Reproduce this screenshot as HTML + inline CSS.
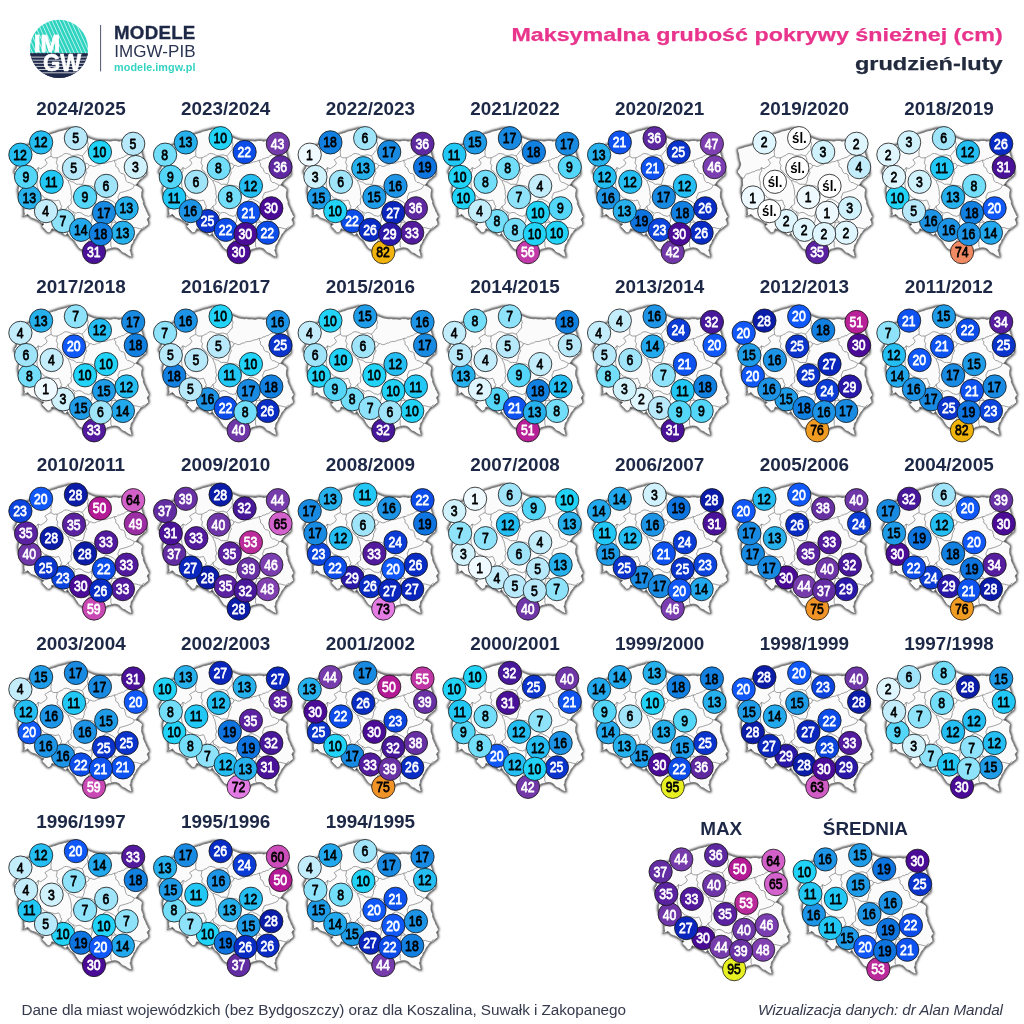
<!DOCTYPE html>
<html lang="pl"><head><meta charset="utf-8"><title>Maksymalna grubość pokrywy śnieżnej</title>
<style>
html,body{margin:0;padding:0;background:#fff}
body{width:1024px;height:1024px;overflow:hidden;position:relative;font-family:"Liberation Sans",sans-serif}
svg{position:absolute;left:0;top:0;display:block;will-change:transform}
text{font-family:"Liberation Sans",sans-serif}
.t{font-weight:bold;font-size:18.9px;fill:#1d2846;text-anchor:middle}
.c circle{stroke:#151515;stroke-opacity:.8;stroke-width:1.0}
.n text{font-size:15.4px;text-anchor:middle;stroke-width:.8px;stroke-linejoin:round}
.n .k{fill:#000;stroke:#000}
.s text{font-size:15.4px;font-weight:bold;text-anchor:middle;fill:#000}
.n .w{fill:#fff;stroke:#fff}
</style></head><body>
<svg width="1024" height="1024" viewBox="0 0 1024 1024">
<defs>
<filter id="sh" x="-10%" y="-10%" width="125%" height="125%">
<feGaussianBlur in="SourceAlpha" stdDeviation="1.8" result="b"/>
<feOffset in="b" dx="0.25" dy="0.25" result="o"/>
<feComponentTransfer in="o" result="s"><feFuncA type="linear" slope="1.3"/></feComponentTransfer>
<feMerge><feMergeNode in="s"/><feMergeNode in="SourceGraphic"/></feMerge>
</filter>
<g id="pl">
<path d="M14.3,149.2 16.5,148.3 18.8,147.8 21,147 22.9,146.4 24.9,146 26.9,145.5 28.8,144.9 30.5,143.7 32.4,142.7 34.5,142.3 36.2,141 38,140 40,139.3 41.8,138.8 43.2,137.7 45,137.1 46.5,136 48.2,135.3 49.6,134.2 51.4,133.6 53.6,132.9 55.9,132.3 58,131.3 60.1,130.8 62.2,130.4 64.3,129.7 66.2,129.4 68,128.4 70,128.3 72,128.6 74,128.5 76,128.5 78.1,129.6 80,131 81.3,132.3 81.8,134.2 83,135.5 85.2,136.1 87.4,136.7 89.5,137.9 91.7,138.7 93.8,139.6 96,140 97.9,140.3 99.9,140.6 101.9,140.3 103.8,140.8 105.8,140.7 107.7,140.7 109.5,141.1 111.3,141 113.2,140.4 115.1,140.5 116.9,140.5 118.7,141.2 120.6,140.8 122.5,140.8 124.4,141 126.3,140.8 128.3,141 130.2,141 132.1,141 134,141.2 136.5,140.8 139,140.2 140.2,141.6 141.5,143 141.2,145.3 141.4,147.7 141.5,150 141.7,152.1 142.2,154.1 143,156 143.1,158.1 143.9,160 144.8,161.9 145,164 145.1,166.4 145.4,168.7 146.2,171 146,173 146.4,175 144.8,176.1 143.2,177.2 141.9,178.7 140.2,179.7 138.6,181.4 137.3,183.3 135.9,185.2 137.9,186 139.8,187.2 141.4,188.4 142.5,190 141.8,192.3 141.7,194.7 141.7,197.1 142.5,199.4 143.4,201.4 143.3,203.6 144.1,205.6 144.9,207.4 145.9,209.2 146.4,211.1 147.6,212.9 148.3,214.9 149.5,216.6 148.1,218 147.2,219.7 148.3,221.9 148.8,224.4 146.7,225.9 144.8,227.5 143.5,228.8 141.6,229.4 140.2,230.6 139.3,232.2 138,233.6 136.9,235.1 136.2,236.9 135.3,238.5 134,239.8 133.6,241.7 132.8,243.3 131.6,244.7 131,246.5 130.9,248.5 130,250.2 130.8,251.9 131.2,253.7 131.6,255.5 132.3,257.2 130.4,256.7 128.6,255.9 126.9,254.8 125.2,253.5 123.2,252.9 121.4,251.7 120.1,249.9 118.3,248.6 116,247.9 113.6,247.8 111.5,248.4 109.4,248.9 107.3,249.4 105.6,250.7 104,252 102.4,252.9 101,253.9 99.5,255 98,256 96,255.9 94,255.6 92,256 90,254.5 88,253 86,252 84,251 82.1,249.9 80,249.1 78.3,247.3 76.9,245.2 75.6,243.3 74.5,241.2 73.2,239.7 71.5,238.7 70,237.5 68.8,235.4 67.5,233.4 65.2,235.8 62.8,233.4 60.2,232.5 58,231 55.9,230.3 54,229.4 51.9,228.8 51.1,231.1 49.8,232.4 48,233 46.7,231.4 45.2,230 43.5,228.1 41.7,226.4 44,224 41.5,223.2 39.4,221.7 37.5,220.5 35.5,219.4 33.1,218.6 30.8,217.8 29.4,216 27.7,214.3 26.1,215.3 24.2,216 22.6,217 23.7,215.5 24.5,213.9 24,212.1 23.9,210.3 24.1,208.4 23.5,206.5 23,204.7 22,203 21.1,201.3 20.5,199.5 19.8,197.7 19,196 18.5,194 18.2,192 18,190 18.6,187.6 19.4,185.2 19.2,182.8 19.2,180.5 19,178.1 17.6,176.8 16.4,175.3 15.3,173.6 13.9,172.3 14.6,170.3 15.9,168.8 16.7,166.8 17.4,164.8 17.1,162.6 16.3,160.6 15.8,158.4 15.5,156.2 15.3,153.9 14.5,151.6Z" fill="#fbfbfb" stroke="#707070" stroke-width=".85" stroke-linejoin="miter" filter="url(#sh)"/>
<path d="M51.4,145 51.5,146.7 51.3,148.3 51.4,150 50.8,152.1 51.2,154.2 51,156.2 49.1,157 47.7,157.9 46.2,158.8 44.8,159.8 46.2,161.4 47.1,163.3 45.6,165.6 44,166.6 42.4,167.6 40.9,168.8 38.1,167.6 36.6,169.9 34.4,170 32.3,170.7 30.9,171.7 29.2,171.9 27.3,172.7 25.4,173.6 23.3,173.8 22.1,175.1 21.3,176.6 20.6,178.1 19,178.1 M51,156.2 53.4,157.8 55.2,157.8 57.1,157.8 58.8,157.2 60.2,156.2 61.9,155.7 63.2,154.5 64.7,153.7 66.5,153.5 68.1,153.9 69.7,154.3 71.1,155.3 72.8,155.5 74.6,155.4 76.4,155.1 78.2,154.7 80.1,155.4 82.1,155.9 83.8,154.2 85.2,152.3 86.2,150.9 87.6,150 87.6,148.2 87.4,146.5 88.3,144.8 88,143 87.3,140.9 87.9,138.8 87.4,136.7 M57.1,157.8 57,160.2 56.3,162.5 56.9,164.1 57.9,165.6 57.3,167.1 57.1,168.8 57.8,170.3 59.5,171.2 60.2,172.7 61.7,173.9 63,175.3 64,177 65.6,177.9 66.6,179.5 68.1,180.5 69.8,180.7 71.2,181.7 72.9,181.9 74.3,182.8 76.7,184.4 78.5,184.2 80.3,184.3 82.1,184.4 83.2,183 83.7,181.2 84.3,179.5 84.2,177.5 85.2,175.8 85.8,174.1 86.8,172.7 86,171.2 86,169.5 88.4,168 89.2,165.6 88.3,164.2 86.8,163.3 85.2,164.1 84.8,162.4 83.7,160.9 83.5,159.1 83,157.5 82.1,155.9 M89.2,165.6 91.1,165.4 92.8,166.4 94.6,166.4 96.3,165.7 97.8,164.8 99.4,164.9 100.8,163.8 102.4,163.4 104,163.3 105.6,163.1 107.2,162.7 108.6,161.9 110.2,161.7 111.9,161.4 113.3,160.6 114.9,160.2 116.8,160 118.3,158.7 120.2,158.6 121.7,157.5 123.5,157.4 124.9,156.2 126.4,155.3 128.1,154.7 129.6,153.6 131.5,153.2 133,152 134.7,151.5 136.2,150.3 138,150 139.7,150.1 141.3,150.2 143,150 M114.8,160.2 114.6,162.1 115.9,163.7 115.6,165.6 116.4,167.1 118,168 118.7,169.5 119.4,171.7 121,173.4 123.2,173.7 124.9,175 124.9,176.7 125.5,178.2 125.7,179.8 126.5,181.2 127.8,182.5 129.8,182.6 131.2,183.6 132.8,184.2 134.3,185.2 135.9,185.2 M134.3,185.2 133.7,186.8 132.8,188.3 131.2,189.1 129.6,189.8 128.1,190.4 126.5,190.9 124.9,191.4 123.1,192 121.3,192.3 119.5,193 118.9,195.1 117.9,196.9 118.2,198.5 118.7,200 118,202.3 116.3,204 115.3,205.6 114,207 113.5,208.7 113,210.5 112,212 112.1,214 112.9,216 113,218 113.7,219.5 114.6,221 116,222 118.1,222.8 120,224 121.9,225.1 123.9,225.7 126,226 127.6,226.5 129.4,226.1 131,226.9 132.6,227.3 134.3,227.5 136.3,227.7 138.2,228.3 141.3,229 142.7,227.6 144.5,226.7 M38.1,167.6 38.5,170.3 37.8,171.9 36.9,173.3 36.6,175 35.9,177.3 36.2,179.7 36.8,181.6 37,183.6 37,185.5 37.4,187.2 38,189 38.8,191 40.3,192.6 40.9,194.7 42.8,195.9 44,197.8 45.6,198.1 47.1,198.6 49,199.6 51,200 53,200.2 54.9,200.9 56.8,200.5 58.7,200 59.7,201.5 60.2,203.1 60.7,204.8 61.8,206.2 61,207.8 63,210 65.2,209.4 67,208 68.1,206.2 M40.9,194.7 39.4,195.5 37.6,195.4 36,196 34.6,196.9 33.1,197.8 31.5,198.3 30,199 29,200.7 28,202.3 27,204 26.3,205.8 25.8,207.8 24.9,209.5 M68.1,180.5 68.6,182.1 69.1,183.6 70,185 70.3,186.7 70.7,188.3 71,190 71.4,192 71.1,194.2 72,196.1 71.6,198.1 70.8,200 71.4,201.9 71.2,203.9 69.8,205.3 68.1,206.2 68.7,207.8 68.8,209.4 70.9,210.4 72.8,211.7 74.4,212.3 75.9,213.3 77.8,212.5 79.8,212.5 81.4,213.1 82.9,214.1 85.2,215.6 86.9,215.8 88.4,216.4 90,215.7 91.5,214.8 92,213 92.7,211.4 94,210 94.4,208.2 95.4,206.7 96,205 95.5,203.4 95.6,201.6 95,200 96,198.5 96.2,196.6 97,195 96.2,193.4 96.6,191.6 96,190 94.8,188.2 93.1,186.7 91.5,185.9 89.4,185.8 87.4,185.3 85.2,185.2 83.6,185 82.1,184.4 M72.8,211.7 73.6,213.5 75.1,214.8 74.1,216.3 73.5,218 72.5,219.9 72,222 70.6,223.8 70,226 69.2,228.1 68,230 67.6,232.2 67.4,234.5 M61,207.8 60.3,209.4 58.8,210.5 58,212 57.2,213.6 56.7,215.3 56,217 56,218.7 55,220.3 55,222 55,223.7 55.7,225.3 56,227 57,229 58,231 M91.5,214.8 91.2,216.6 92.2,218.2 92,220 91.5,222.2 90,224 90,226.1 91,228 90.3,230.2 89,232 89.7,233.9 89.5,236 90,238 89.5,239.7 88.3,241.2 88,243 87.3,245.1 86,247 84.6,248.2 84,250 M96,205 98.2,204.4 100,203 101.6,202.4 102.9,201.3 104,200 105.9,199.1 108,199 110,200.1 112,201 113.5,201.9 114.8,203 116.3,204 M91,228 92.8,227.6 94.5,227 96,226 97.9,225.3 100.1,225.9 102,225 103.9,224 106.1,223.8 108,223 109.9,222.1 112,222 114,222.3 116,222 M112,222 111.8,224 110.9,225.9 111,228 111,230.1 112,231.9 112,234 110.9,235.9 110.5,238 110,240 110.9,241.8 110.9,243.9 110.8,246 111.7,247.8 112.4,249.4" fill="none" stroke="#6e6e6e" stroke-width=".65" stroke-linejoin="miter"/>
</g>
</defs>
<g id="logo">
<clipPath id="lc"><circle cx="59" cy="48.9" r="29.1"/></clipPath>
<g clip-path="url(#lc)">
<rect x="29" y="19" width="61" height="34.3" fill="#2fd4c0"/>
<rect x="29" y="53.3" width="61" height="26" fill="#1f2a4a"/>
<path stroke="#fff" stroke-width=".85" opacity=".8" d="M13.2,19l16,35M17,19l16,35M20.8,19l16,35M24.6,19l16,35M28.4,19l16,35M32.2,19l16,35M36,19l16,35M39.8,19l16,35M43.6,19l16,35M47.4,19l16,35M51.2,19l16,35M55,19l16,35M58.8,19l16,35M62.6,19l16,35M66.4,19l16,35M70.2,19l16,35M74,19l16,35M77.800,19l16,35"/>
<rect x="29" y="53.3" width="61" height="26" fill="#1f2a4a"/>
<path stroke="#fff" stroke-width=".85" opacity=".9" d="M29,57.1h61M29,60.2h61M29,63.3h61M29,66.4h61M29,69.5h61M29,72.8h61"/>
</g>
<text x="34" y="52.3" font-weight="bold" font-size="24.2" fill="#fff" stroke="#fff" stroke-width=".7" textLength="26.3" lengthAdjust="spacingAndGlyphs">IM</text>
<text x="42.9" y="71.3" font-weight="bold" font-size="24.6" fill="#fff" stroke="#fff" stroke-width=".6" textLength="38.2" lengthAdjust="spacingAndGlyphs">GW</text>
</g>
<rect x="100.1" y="24.9" width="1" height="46.5" fill="#50566c"/>
<text x="114" y="38.85" font-weight="bold" font-size="18.7" fill="#1d2846" stroke="#1d2846" stroke-width=".35" textLength="81.3" lengthAdjust="spacing">MODELE</text>
<text x="114.2" y="56.7" font-size="17" fill="#2a3450" textLength="81.3" lengthAdjust="spacing">IMGW-PIB</text>
<text x="114.1" y="70.9" font-weight="bold" font-size="10.8" fill="#35d3c0" textLength="81.3" lengthAdjust="spacing">modele.imgw.pl</text>
<text x="511.4" y="40.9" font-weight="bold" font-size="19" fill="#e8348c" stroke="#e8348c" stroke-width=".25" textLength="491.3" lengthAdjust="spacingAndGlyphs">Maksymalna grubość pokrywy śnieżnej (cm)</text>
<text x="854.9" y="70.4" font-weight="bold" font-size="19" fill="#222a3e" stroke="#222a3e" stroke-width=".25" textLength="147.8" lengthAdjust="spacingAndGlyphs">grudzień-luty</text>

<g transform="translate(0,0)">
<text class="t" x="81" y="115">2024/2025</text>
<use href="#pl"/>
<g class="c"><circle cx="20.4" cy="154.7" r="11.65" fill="#25bef2"/><circle cx="29.6" cy="197.5" r="11.65" fill="#26b0ec"/><circle cx="41.1" cy="142.4" r="11.65" fill="#25bef2"/><circle cx="26.1" cy="176.9" r="11.65" fill="#54d6f9"/><circle cx="75.9" cy="138.2" r="11.65" fill="#b8e9fb"/><circle cx="99.9" cy="152" r="11.65" fill="#22d3f8"/><circle cx="133.2" cy="143.8" r="11.65" fill="#b8e9fb"/><circle cx="135.8" cy="167.1" r="11.65" fill="#d0f2fd"/><circle cx="74" cy="168.2" r="11.65" fill="#b8e9fb"/><circle cx="51.6" cy="181.8" r="11.65" fill="#22c8f5"/><circle cx="106.2" cy="185.9" r="11.65" fill="#a0e4fa"/><circle cx="85.1" cy="197.1" r="11.65" fill="#54d6f9"/><circle cx="63.1" cy="221.1" r="11.65" fill="#8ee2fa"/><circle cx="46" cy="211.1" r="11.65" fill="#c4edfc"/><circle cx="81.1" cy="229.8" r="11.65" fill="#22a8ec"/><circle cx="104" cy="212.8" r="11.65" fill="#198ae2"/><circle cx="126.6" cy="208.3" r="11.65" fill="#26b0ec"/><circle cx="122.9" cy="232.7" r="11.65" fill="#26b0ec"/><circle cx="94" cy="252.1" r="11.65" fill="#4a1298"/><circle cx="100.8" cy="234.1" r="11.65" fill="#1280e0"/></g>
<g class="n" transform="scale(0.795,1)"><text class="k" x="25.22" y="159.8">12</text><text class="k" x="36.86" y="202.6">13</text><text class="k" x="51.32" y="147.5">12</text><text class="k" x="32.45" y="182">9</text><text class="k" x="95.09" y="143.3">5</text><text class="k" x="125.28" y="157.1">10</text><text class="k" x="167.17" y="148.9">5</text><text class="k" x="170.44" y="172.2">3</text><text class="k" x="92.70" y="173.2">5</text><text class="k" x="64.53" y="186.8">11</text><text class="k" x="133.21" y="191">6</text><text class="k" x="106.67" y="202.2">9</text><text class="k" x="78.99" y="226.2">7</text><text class="k" x="57.42" y="216.2">4</text><text class="k" x="101.64" y="234.9">14</text><text class="k" x="130.44" y="217.9">17</text><text class="k" x="158.87" y="213.4">13</text><text class="k" x="154.21" y="237.8">13</text><text class="w" x="117.92" y="257.2">31</text><text class="k" x="126.42" y="239.2">18</text></g>
</g>
<g transform="translate(144.7,0)">
<text class="t" x="81" y="115">2023/2024</text>
<use href="#pl"/>
<g class="c"><circle cx="20.4" cy="154.7" r="11.65" fill="#72defa"/><circle cx="29.6" cy="197.5" r="11.65" fill="#22c8f5"/><circle cx="41.1" cy="142.4" r="11.65" fill="#26b0ec"/><circle cx="26.1" cy="176.9" r="11.65" fill="#54d6f9"/><circle cx="75.9" cy="138.2" r="11.65" fill="#22d3f8"/><circle cx="99.9" cy="152" r="11.65" fill="#0c4ce8"/><circle cx="133.2" cy="143.8" r="11.65" fill="#743aaa"/><circle cx="135.8" cy="167.1" r="11.65" fill="#5e28a0"/><circle cx="74" cy="168.2" r="11.65" fill="#72defa"/><circle cx="51.6" cy="181.8" r="11.65" fill="#a0e4fa"/><circle cx="106.2" cy="185.9" r="11.65" fill="#25bef2"/><circle cx="85.1" cy="197.1" r="11.65" fill="#72defa"/><circle cx="63.1" cy="221.1" r="11.65" fill="#0a34cc"/><circle cx="46" cy="211.1" r="11.65" fill="#1d94e6"/><circle cx="81.1" cy="229.8" r="11.65" fill="#0c4ce8"/><circle cx="104" cy="212.8" r="11.65" fill="#0e52f0"/><circle cx="126.6" cy="208.3" r="11.65" fill="#4a0c96"/><circle cx="122.9" cy="232.7" r="11.65" fill="#0c4ce8"/><circle cx="94" cy="252.1" r="11.65" fill="#4a0c96"/><circle cx="100.8" cy="234.1" r="11.65" fill="#4a0c96"/></g>
<g class="n" transform="scale(0.795,1)"><text class="k" x="25.22" y="159.8">8</text><text class="k" x="36.86" y="202.6">11</text><text class="k" x="51.32" y="147.5">13</text><text class="k" x="32.45" y="182">9</text><text class="k" x="95.09" y="143.3">10</text><text class="w" x="125.28" y="157.1">22</text><text class="w" x="167.17" y="148.9">43</text><text class="w" x="170.44" y="172.2">36</text><text class="k" x="92.70" y="173.2">8</text><text class="k" x="64.53" y="186.8">6</text><text class="k" x="133.21" y="191">12</text><text class="k" x="106.67" y="202.2">8</text><text class="w" x="78.99" y="226.2">25</text><text class="k" x="57.42" y="216.2">16</text><text class="w" x="101.64" y="234.9">22</text><text class="w" x="130.44" y="217.9">21</text><text class="w" x="158.87" y="213.4">30</text><text class="w" x="154.21" y="237.8">22</text><text class="w" x="117.92" y="257.2">30</text><text class="w" x="126.42" y="239.2">30</text></g>
</g>
<g transform="translate(289.3,0)">
<text class="t" x="81" y="115">2022/2023</text>
<use href="#pl"/>
<g class="c"><circle cx="20.4" cy="154.7" r="11.65" fill="#eefaff"/><circle cx="29.6" cy="197.5" r="11.65" fill="#1f9ce8"/><circle cx="41.1" cy="142.4" r="11.65" fill="#1280e0"/><circle cx="26.1" cy="176.9" r="11.65" fill="#d0f2fd"/><circle cx="75.9" cy="138.2" r="11.65" fill="#a0e4fa"/><circle cx="99.9" cy="152" r="11.65" fill="#198ae2"/><circle cx="133.2" cy="143.8" r="11.65" fill="#5e28a0"/><circle cx="135.8" cy="167.1" r="11.65" fill="#0e74e0"/><circle cx="74" cy="168.2" r="11.65" fill="#26b0ec"/><circle cx="51.6" cy="181.8" r="11.65" fill="#a0e4fa"/><circle cx="106.2" cy="185.9" r="11.65" fill="#1d94e6"/><circle cx="85.1" cy="197.1" r="11.65" fill="#1f9ce8"/><circle cx="63.1" cy="221.1" r="11.65" fill="#0c4ce8"/><circle cx="46" cy="211.1" r="11.65" fill="#22d3f8"/><circle cx="81.1" cy="229.8" r="11.65" fill="#082cc4"/><circle cx="104" cy="212.8" r="11.65" fill="#0a26bc"/><circle cx="126.6" cy="208.3" r="11.65" fill="#5e28a0"/><circle cx="122.9" cy="232.7" r="11.65" fill="#521a9c"/><circle cx="94" cy="252.1" r="11.65" fill="#f0b40c"/><circle cx="100.8" cy="234.1" r="11.65" fill="#2a18a8"/></g>
<g class="n" transform="scale(0.795,1)"><text class="k" x="25.22" y="159.8">1</text><text class="k" x="36.86" y="202.6">15</text><text class="k" x="51.32" y="147.5">18</text><text class="k" x="32.45" y="182">3</text><text class="k" x="95.09" y="143.3">6</text><text class="k" x="125.28" y="157.1">17</text><text class="w" x="167.17" y="148.9">36</text><text class="k" x="170.44" y="172.2">19</text><text class="k" x="92.70" y="173.2">13</text><text class="k" x="64.53" y="186.8">6</text><text class="k" x="133.21" y="191">16</text><text class="k" x="106.67" y="202.2">15</text><text class="w" x="78.99" y="226.2">22</text><text class="k" x="57.42" y="216.2">10</text><text class="w" x="101.64" y="234.9">26</text><text class="w" x="130.44" y="217.9">27</text><text class="w" x="158.87" y="213.4">36</text><text class="w" x="154.21" y="237.8">33</text><text class="k" x="117.92" y="257.2">82</text><text class="w" x="126.42" y="239.2">29</text></g>
</g>
<g transform="translate(434,0)">
<text class="t" x="81" y="115">2021/2022</text>
<use href="#pl"/>
<g class="c"><circle cx="20.4" cy="154.7" r="11.65" fill="#22c8f5"/><circle cx="29.6" cy="197.5" r="11.65" fill="#22d3f8"/><circle cx="41.1" cy="142.4" r="11.65" fill="#1f9ce8"/><circle cx="26.1" cy="176.9" r="11.65" fill="#22d3f8"/><circle cx="75.9" cy="138.2" r="11.65" fill="#198ae2"/><circle cx="99.9" cy="152" r="11.65" fill="#1280e0"/><circle cx="133.2" cy="143.8" r="11.65" fill="#198ae2"/><circle cx="135.8" cy="167.1" r="11.65" fill="#54d6f9"/><circle cx="74" cy="168.2" r="11.65" fill="#72defa"/><circle cx="51.6" cy="181.8" r="11.65" fill="#72defa"/><circle cx="106.2" cy="185.9" r="11.65" fill="#c4edfc"/><circle cx="85.1" cy="197.1" r="11.65" fill="#8ee2fa"/><circle cx="63.1" cy="221.1" r="11.65" fill="#72defa"/><circle cx="46" cy="211.1" r="11.65" fill="#c4edfc"/><circle cx="81.1" cy="229.8" r="11.65" fill="#72defa"/><circle cx="104" cy="212.8" r="11.65" fill="#22d3f8"/><circle cx="126.6" cy="208.3" r="11.65" fill="#54d6f9"/><circle cx="122.9" cy="232.7" r="11.65" fill="#22d3f8"/><circle cx="94" cy="252.1" r="11.65" fill="#c23aa8"/><circle cx="100.8" cy="234.1" r="11.65" fill="#22d3f8"/></g>
<g class="n" transform="scale(0.795,1)"><text class="k" x="25.22" y="159.8">11</text><text class="k" x="36.86" y="202.6">10</text><text class="k" x="51.32" y="147.5">15</text><text class="k" x="32.45" y="182">10</text><text class="k" x="95.09" y="143.3">17</text><text class="k" x="125.28" y="157.1">18</text><text class="k" x="167.17" y="148.9">17</text><text class="k" x="170.44" y="172.2">9</text><text class="k" x="92.70" y="173.2">8</text><text class="k" x="64.53" y="186.8">8</text><text class="k" x="133.21" y="191">4</text><text class="k" x="106.67" y="202.2">7</text><text class="k" x="78.99" y="226.2">8</text><text class="k" x="57.42" y="216.2">4</text><text class="k" x="101.64" y="234.9">8</text><text class="k" x="130.44" y="217.9">10</text><text class="k" x="158.87" y="213.4">9</text><text class="k" x="154.21" y="237.8">10</text><text class="w" x="117.92" y="257.2">56</text><text class="k" x="126.42" y="239.2">10</text></g>
</g>
<g transform="translate(578.7,0)">
<text class="t" x="81" y="115">2020/2021</text>
<use href="#pl"/>
<g class="c"><circle cx="20.4" cy="154.7" r="11.65" fill="#26b0ec"/><circle cx="29.6" cy="197.5" r="11.65" fill="#1d94e6"/><circle cx="41.1" cy="142.4" r="11.65" fill="#0e52f0"/><circle cx="26.1" cy="176.9" r="11.65" fill="#25bef2"/><circle cx="75.9" cy="138.2" r="11.65" fill="#5e28a0"/><circle cx="99.9" cy="152" r="11.65" fill="#0a34cc"/><circle cx="133.2" cy="143.8" r="11.65" fill="#7e3fb0"/><circle cx="135.8" cy="167.1" r="11.65" fill="#7a3eb0"/><circle cx="74" cy="168.2" r="11.65" fill="#0e52f0"/><circle cx="51.6" cy="181.8" r="11.65" fill="#25bef2"/><circle cx="106.2" cy="185.9" r="11.65" fill="#25bef2"/><circle cx="85.1" cy="197.1" r="11.65" fill="#198ae2"/><circle cx="63.1" cy="221.1" r="11.65" fill="#0e74e0"/><circle cx="46" cy="211.1" r="11.65" fill="#26b0ec"/><circle cx="81.1" cy="229.8" r="11.65" fill="#0c44de"/><circle cx="104" cy="212.8" r="11.65" fill="#1280e0"/><circle cx="126.6" cy="208.3" r="11.65" fill="#082cc4"/><circle cx="122.9" cy="232.7" r="11.65" fill="#082cc4"/><circle cx="94" cy="252.1" r="11.65" fill="#7238a8"/><circle cx="100.8" cy="234.1" r="11.65" fill="#4a0c96"/></g>
<g class="n" transform="scale(0.795,1)"><text class="k" x="25.22" y="159.8">13</text><text class="k" x="36.86" y="202.6">16</text><text class="w" x="51.32" y="147.5">21</text><text class="k" x="32.45" y="182">12</text><text class="w" x="95.09" y="143.3">36</text><text class="w" x="125.28" y="157.1">25</text><text class="w" x="167.17" y="148.9">47</text><text class="w" x="170.44" y="172.2">46</text><text class="w" x="92.70" y="173.2">21</text><text class="k" x="64.53" y="186.8">12</text><text class="k" x="133.21" y="191">12</text><text class="k" x="106.67" y="202.2">17</text><text class="k" x="78.99" y="226.2">19</text><text class="k" x="57.42" y="216.2">13</text><text class="w" x="101.64" y="234.9">23</text><text class="k" x="130.44" y="217.9">18</text><text class="w" x="158.87" y="213.4">26</text><text class="w" x="154.21" y="237.8">26</text><text class="w" x="117.92" y="257.2">42</text><text class="w" x="126.42" y="239.2">30</text></g>
</g>
<g transform="translate(723.3,0)">
<text class="t" x="81" y="115">2019/2020</text>
<use href="#pl"/>
<g class="c"><circle cx="29.6" cy="197.5" r="11.65" fill="#eefaff"/><circle cx="41.1" cy="142.4" r="11.65" fill="#e0f6fe"/><circle cx="75.9" cy="138.2" r="11.65" fill="#fff"/><circle cx="99.9" cy="152" r="11.65" fill="#d0f2fd"/><circle cx="133.2" cy="143.8" r="11.65" fill="#e0f6fe"/><circle cx="135.8" cy="167.1" r="11.65" fill="#c4edfc"/><circle cx="74" cy="168.2" r="11.65" fill="#fff"/><circle cx="51.6" cy="181.8" r="11.65" fill="#fff"/><circle cx="106.2" cy="185.9" r="11.65" fill="#fff"/><circle cx="85.1" cy="197.1" r="11.65" fill="#eefaff"/><circle cx="63.1" cy="221.1" r="11.65" fill="#e0f6fe"/><circle cx="46" cy="211.1" r="11.65" fill="#fff"/><circle cx="81.1" cy="229.8" r="11.65" fill="#e0f6fe"/><circle cx="104" cy="212.8" r="11.65" fill="#eefaff"/><circle cx="126.6" cy="208.3" r="11.65" fill="#d0f2fd"/><circle cx="122.9" cy="232.7" r="11.65" fill="#e0f6fe"/><circle cx="94" cy="252.1" r="11.65" fill="#5a22a0"/><circle cx="100.8" cy="234.1" r="11.65" fill="#e0f6fe"/></g>
<g class="n" transform="scale(0.795,1)"><text class="k" x="36.86" y="202.6">1</text><text class="k" x="51.32" y="147.5">2</text><text class="k" x="125.28" y="157.1">3</text><text class="k" x="167.17" y="148.9">2</text><text class="k" x="170.44" y="172.2">4</text><text class="k" x="106.67" y="202.2">1</text><text class="k" x="78.99" y="226.2">2</text><text class="k" x="101.64" y="234.9">2</text><text class="k" x="130.44" y="217.9">1</text><text class="k" x="158.87" y="213.4">3</text><text class="k" x="154.21" y="237.8">2</text><text class="w" x="117.92" y="257.2">35</text><text class="k" x="126.42" y="239.2">2</text></g>
<g class="s" transform="scale(0.86,1)"><text x="88.49" y="143.1">śl.</text><text x="86.28" y="173.1">śl.</text><text x="60.23" y="186.7">śl.</text><text x="123.72" y="190.8">śl.</text><text x="53.66" y="216">śl.</text></g>
</g>
<g transform="translate(868,0)">
<text class="t" x="81" y="115">2018/2019</text>
<use href="#pl"/>
<g class="c"><circle cx="20.4" cy="154.7" r="11.65" fill="#e0f6fe"/><circle cx="29.6" cy="197.5" r="11.65" fill="#22d3f8"/><circle cx="41.1" cy="142.4" r="11.65" fill="#d0f2fd"/><circle cx="26.1" cy="176.9" r="11.65" fill="#e0f6fe"/><circle cx="75.9" cy="138.2" r="11.65" fill="#a0e4fa"/><circle cx="99.9" cy="152" r="11.65" fill="#25bef2"/><circle cx="133.2" cy="143.8" r="11.65" fill="#082cc4"/><circle cx="135.8" cy="167.1" r="11.65" fill="#4a1298"/><circle cx="74" cy="168.2" r="11.65" fill="#22c8f5"/><circle cx="51.6" cy="181.8" r="11.65" fill="#d0f2fd"/><circle cx="106.2" cy="185.9" r="11.65" fill="#72defa"/><circle cx="85.1" cy="197.1" r="11.65" fill="#26b0ec"/><circle cx="63.1" cy="221.1" r="11.65" fill="#1d94e6"/><circle cx="46" cy="211.1" r="11.65" fill="#b8e9fb"/><circle cx="81.1" cy="229.8" r="11.65" fill="#1d94e6"/><circle cx="104" cy="212.8" r="11.65" fill="#1280e0"/><circle cx="126.6" cy="208.3" r="11.65" fill="#1058f8"/><circle cx="122.9" cy="232.7" r="11.65" fill="#22a8ec"/><circle cx="94" cy="252.1" r="11.65" fill="#f08a62"/><circle cx="100.8" cy="234.1" r="11.65" fill="#1d94e6"/></g>
<g class="n" transform="scale(0.795,1)"><text class="k" x="25.22" y="159.8">2</text><text class="k" x="36.86" y="202.6">10</text><text class="k" x="51.32" y="147.5">3</text><text class="k" x="32.45" y="182">2</text><text class="k" x="95.09" y="143.3">6</text><text class="k" x="125.28" y="157.1">12</text><text class="w" x="167.17" y="148.9">26</text><text class="w" x="170.44" y="172.2">31</text><text class="k" x="92.70" y="173.2">11</text><text class="k" x="64.53" y="186.8">3</text><text class="k" x="133.21" y="191">8</text><text class="k" x="106.67" y="202.2">13</text><text class="k" x="78.99" y="226.2">16</text><text class="k" x="57.42" y="216.2">5</text><text class="k" x="101.64" y="234.9">16</text><text class="k" x="130.44" y="217.9">18</text><text class="w" x="158.87" y="213.4">20</text><text class="k" x="154.21" y="237.8">14</text><text class="k" x="117.92" y="257.2">74</text><text class="k" x="126.42" y="239.2">16</text></g>
</g>
<g transform="translate(0,178.2)">
<text class="t" x="81" y="115">2017/2018</text>
<use href="#pl"/>
<g class="c"><circle cx="20.4" cy="154.7" r="11.65" fill="#c4edfc"/><circle cx="29.6" cy="197.5" r="11.65" fill="#72defa"/><circle cx="41.1" cy="142.4" r="11.65" fill="#26b0ec"/><circle cx="26.1" cy="176.9" r="11.65" fill="#a0e4fa"/><circle cx="75.9" cy="138.2" r="11.65" fill="#8ee2fa"/><circle cx="99.9" cy="152" r="11.65" fill="#25bef2"/><circle cx="133.2" cy="143.8" r="11.65" fill="#198ae2"/><circle cx="135.8" cy="167.1" r="11.65" fill="#1280e0"/><circle cx="74" cy="168.2" r="11.65" fill="#1058f8"/><circle cx="51.6" cy="181.8" r="11.65" fill="#c4edfc"/><circle cx="106.2" cy="185.9" r="11.65" fill="#22d3f8"/><circle cx="85.1" cy="197.1" r="11.65" fill="#22d3f8"/><circle cx="63.1" cy="221.1" r="11.65" fill="#d0f2fd"/><circle cx="46" cy="211.1" r="11.65" fill="#eefaff"/><circle cx="81.1" cy="229.8" r="11.65" fill="#1f9ce8"/><circle cx="104" cy="212.8" r="11.65" fill="#1f9ce8"/><circle cx="126.6" cy="208.3" r="11.65" fill="#25bef2"/><circle cx="122.9" cy="232.7" r="11.65" fill="#22a8ec"/><circle cx="94" cy="252.1" r="11.65" fill="#521a9c"/><circle cx="100.8" cy="234.1" r="11.65" fill="#a0e4fa"/></g>
<g class="n" transform="scale(0.795,1)"><text class="k" x="25.22" y="159.8">4</text><text class="k" x="36.86" y="202.6">8</text><text class="k" x="51.32" y="147.5">13</text><text class="k" x="32.45" y="182">6</text><text class="k" x="95.09" y="143.3">7</text><text class="k" x="125.28" y="157.1">12</text><text class="k" x="167.17" y="148.9">17</text><text class="k" x="170.44" y="172.2">18</text><text class="w" x="92.70" y="173.2">20</text><text class="k" x="64.53" y="186.8">4</text><text class="k" x="133.21" y="191">10</text><text class="k" x="106.67" y="202.2">10</text><text class="k" x="78.99" y="226.2">3</text><text class="k" x="57.42" y="216.2">1</text><text class="k" x="101.64" y="234.9">15</text><text class="k" x="130.44" y="217.9">15</text><text class="k" x="158.87" y="213.4">12</text><text class="k" x="154.21" y="237.8">14</text><text class="w" x="117.92" y="257.2">33</text><text class="k" x="126.42" y="239.2">6</text></g>
</g>
<g transform="translate(144.7,178.2)">
<text class="t" x="81" y="115">2016/2017</text>
<use href="#pl"/>
<g class="c"><circle cx="20.4" cy="154.7" r="11.65" fill="#8ee2fa"/><circle cx="29.6" cy="197.5" r="11.65" fill="#1280e0"/><circle cx="41.1" cy="142.4" r="11.65" fill="#1d94e6"/><circle cx="26.1" cy="176.9" r="11.65" fill="#b8e9fb"/><circle cx="75.9" cy="138.2" r="11.65" fill="#22d3f8"/><circle cx="133.2" cy="143.8" r="11.65" fill="#1d94e6"/><circle cx="135.8" cy="167.1" r="11.65" fill="#0a34cc"/><circle cx="74" cy="168.2" r="11.65" fill="#b8e9fb"/><circle cx="51.6" cy="181.8" r="11.65" fill="#b8e9fb"/><circle cx="106.2" cy="185.9" r="11.65" fill="#22d3f8"/><circle cx="85.1" cy="197.1" r="11.65" fill="#22c8f5"/><circle cx="63.1" cy="221.1" r="11.65" fill="#1d94e6"/><circle cx="46" cy="211.1" r="11.65" fill="#b8e9fb"/><circle cx="81.1" cy="229.8" r="11.65" fill="#0c4ce8"/><circle cx="104" cy="212.8" r="11.65" fill="#198ae2"/><circle cx="126.6" cy="208.3" r="11.65" fill="#1280e0"/><circle cx="122.9" cy="232.7" r="11.65" fill="#082cc4"/><circle cx="94" cy="252.1" r="11.65" fill="#6e36a6"/><circle cx="100.8" cy="234.1" r="11.65" fill="#72defa"/></g>
<g class="n" transform="scale(0.795,1)"><text class="k" x="25.22" y="159.8">7</text><text class="k" x="36.86" y="202.6">18</text><text class="k" x="51.32" y="147.5">16</text><text class="k" x="32.45" y="182">5</text><text class="k" x="95.09" y="143.3">10</text><text class="k" x="167.17" y="148.9">16</text><text class="w" x="170.44" y="172.2">25</text><text class="k" x="92.70" y="173.2">5</text><text class="k" x="64.53" y="186.8">5</text><text class="k" x="133.21" y="191">10</text><text class="k" x="106.67" y="202.2">11</text><text class="k" x="78.99" y="226.2">16</text><text class="k" x="57.42" y="216.2">5</text><text class="w" x="101.64" y="234.9">22</text><text class="k" x="130.44" y="217.9">17</text><text class="k" x="158.87" y="213.4">18</text><text class="w" x="154.21" y="237.8">26</text><text class="w" x="117.92" y="257.2">40</text><text class="k" x="126.42" y="239.2">8</text></g>
</g>
<g transform="translate(289.3,178.2)">
<text class="t" x="81" y="115">2015/2016</text>
<use href="#pl"/>
<g class="c"><circle cx="20.4" cy="154.7" r="11.65" fill="#c4edfc"/><circle cx="29.6" cy="197.5" r="11.65" fill="#22d3f8"/><circle cx="41.1" cy="142.4" r="11.65" fill="#22d3f8"/><circle cx="26.1" cy="176.9" r="11.65" fill="#a0e4fa"/><circle cx="75.9" cy="138.2" r="11.65" fill="#1f9ce8"/><circle cx="133.2" cy="143.8" r="11.65" fill="#1d94e6"/><circle cx="135.8" cy="167.1" r="11.65" fill="#198ae2"/><circle cx="74" cy="168.2" r="11.65" fill="#a0e4fa"/><circle cx="51.6" cy="181.8" r="11.65" fill="#22d3f8"/><circle cx="106.2" cy="185.9" r="11.65" fill="#25bef2"/><circle cx="85.1" cy="197.1" r="11.65" fill="#22d3f8"/><circle cx="63.1" cy="221.1" r="11.65" fill="#72defa"/><circle cx="46" cy="211.1" r="11.65" fill="#54d6f9"/><circle cx="81.1" cy="229.8" r="11.65" fill="#8ee2fa"/><circle cx="104" cy="212.8" r="11.65" fill="#22d3f8"/><circle cx="126.6" cy="208.3" r="11.65" fill="#22c8f5"/><circle cx="122.9" cy="232.7" r="11.65" fill="#22d3f8"/><circle cx="94" cy="252.1" r="11.65" fill="#48189a"/><circle cx="100.8" cy="234.1" r="11.65" fill="#a0e4fa"/></g>
<g class="n" transform="scale(0.795,1)"><text class="k" x="25.22" y="159.8">4</text><text class="k" x="36.86" y="202.6">10</text><text class="k" x="51.32" y="147.5">10</text><text class="k" x="32.45" y="182">6</text><text class="k" x="95.09" y="143.3">15</text><text class="k" x="167.17" y="148.9">16</text><text class="k" x="170.44" y="172.2">17</text><text class="k" x="92.70" y="173.2">6</text><text class="k" x="64.53" y="186.8">10</text><text class="k" x="133.21" y="191">12</text><text class="k" x="106.67" y="202.2">10</text><text class="k" x="78.99" y="226.2">8</text><text class="k" x="57.42" y="216.2">9</text><text class="k" x="101.64" y="234.9">7</text><text class="k" x="130.44" y="217.9">10</text><text class="k" x="158.87" y="213.4">11</text><text class="k" x="154.21" y="237.8">10</text><text class="w" x="117.92" y="257.2">32</text><text class="k" x="126.42" y="239.2">6</text></g>
</g>
<g transform="translate(434,178.2)">
<text class="t" x="81" y="115">2014/2015</text>
<use href="#pl"/>
<g class="c"><circle cx="20.4" cy="154.7" r="11.65" fill="#c4edfc"/><circle cx="29.6" cy="197.5" r="11.65" fill="#26b0ec"/><circle cx="41.1" cy="142.4" r="11.65" fill="#72defa"/><circle cx="26.1" cy="176.9" r="11.65" fill="#b8e9fb"/><circle cx="75.9" cy="138.2" r="11.65" fill="#8ee2fa"/><circle cx="133.2" cy="143.8" r="11.65" fill="#1280e0"/><circle cx="135.8" cy="167.1" r="11.65" fill="#b8e9fb"/><circle cx="74" cy="168.2" r="11.65" fill="#b8e9fb"/><circle cx="51.6" cy="181.8" r="11.65" fill="#c4edfc"/><circle cx="106.2" cy="185.9" r="11.65" fill="#c4edfc"/><circle cx="85.1" cy="197.1" r="11.65" fill="#54d6f9"/><circle cx="63.1" cy="221.1" r="11.65" fill="#54d6f9"/><circle cx="46" cy="211.1" r="11.65" fill="#e0f6fe"/><circle cx="81.1" cy="229.8" r="11.65" fill="#0e52f0"/><circle cx="104" cy="212.8" r="11.65" fill="#1280e0"/><circle cx="126.6" cy="208.3" r="11.65" fill="#25bef2"/><circle cx="122.9" cy="232.7" r="11.65" fill="#72defa"/><circle cx="94" cy="252.1" r="11.65" fill="#b82098"/><circle cx="100.8" cy="234.1" r="11.65" fill="#26b0ec"/></g>
<g class="n" transform="scale(0.795,1)"><text class="k" x="25.22" y="159.8">4</text><text class="k" x="36.86" y="202.6">13</text><text class="k" x="51.32" y="147.5">8</text><text class="k" x="32.45" y="182">5</text><text class="k" x="95.09" y="143.3">7</text><text class="k" x="167.17" y="148.9">18</text><text class="k" x="170.44" y="172.2">5</text><text class="k" x="92.70" y="173.2">5</text><text class="k" x="64.53" y="186.8">4</text><text class="k" x="133.21" y="191">4</text><text class="k" x="106.67" y="202.2">9</text><text class="k" x="78.99" y="226.2">9</text><text class="k" x="57.42" y="216.2">2</text><text class="w" x="101.64" y="234.9">21</text><text class="k" x="130.44" y="217.9">18</text><text class="k" x="158.87" y="213.4">12</text><text class="k" x="154.21" y="237.8">8</text><text class="w" x="117.92" y="257.2">51</text><text class="k" x="126.42" y="239.2">13</text></g>
</g>
<g transform="translate(578.7,178.2)">
<text class="t" x="81" y="115">2013/2014</text>
<use href="#pl"/>
<g class="c"><circle cx="20.4" cy="154.7" r="11.65" fill="#c4edfc"/><circle cx="29.6" cy="197.5" r="11.65" fill="#72defa"/><circle cx="41.1" cy="142.4" r="11.65" fill="#c4edfc"/><circle cx="26.1" cy="176.9" r="11.65" fill="#b8e9fb"/><circle cx="75.9" cy="138.2" r="11.65" fill="#1d94e6"/><circle cx="99.9" cy="152" r="11.65" fill="#0c3cd6"/><circle cx="133.2" cy="143.8" r="11.65" fill="#48189a"/><circle cx="135.8" cy="167.1" r="11.65" fill="#1058f8"/><circle cx="74" cy="168.2" r="11.65" fill="#22a8ec"/><circle cx="51.6" cy="181.8" r="11.65" fill="#a0e4fa"/><circle cx="106.2" cy="185.9" r="11.65" fill="#0e52f0"/><circle cx="85.1" cy="197.1" r="11.65" fill="#8ee2fa"/><circle cx="63.1" cy="221.1" r="11.65" fill="#e0f6fe"/><circle cx="46" cy="211.1" r="11.65" fill="#d0f2fd"/><circle cx="81.1" cy="229.8" r="11.65" fill="#b8e9fb"/><circle cx="104" cy="212.8" r="11.65" fill="#22c8f5"/><circle cx="126.6" cy="208.3" r="11.65" fill="#1280e0"/><circle cx="122.9" cy="232.7" r="11.65" fill="#54d6f9"/><circle cx="94" cy="252.1" r="11.65" fill="#4a1298"/><circle cx="100.8" cy="234.1" r="11.65" fill="#54d6f9"/></g>
<g class="n" transform="scale(0.795,1)"><text class="k" x="25.22" y="159.8">4</text><text class="k" x="36.86" y="202.6">8</text><text class="k" x="51.32" y="147.5">4</text><text class="k" x="32.45" y="182">5</text><text class="k" x="95.09" y="143.3">16</text><text class="w" x="125.28" y="157.1">24</text><text class="w" x="167.17" y="148.9">32</text><text class="w" x="170.44" y="172.2">20</text><text class="k" x="92.70" y="173.2">14</text><text class="k" x="64.53" y="186.8">6</text><text class="w" x="133.21" y="191">21</text><text class="k" x="106.67" y="202.2">7</text><text class="k" x="78.99" y="226.2">2</text><text class="k" x="57.42" y="216.2">3</text><text class="k" x="101.64" y="234.9">5</text><text class="k" x="130.44" y="217.9">11</text><text class="k" x="158.87" y="213.4">18</text><text class="k" x="154.21" y="237.8">9</text><text class="w" x="117.92" y="257.2">31</text><text class="k" x="126.42" y="239.2">9</text></g>
</g>
<g transform="translate(723.3,178.2)">
<text class="t" x="81" y="115">2012/2013</text>
<use href="#pl"/>
<g class="c"><circle cx="20.4" cy="154.7" r="11.65" fill="#1058f8"/><circle cx="29.6" cy="197.5" r="11.65" fill="#1058f8"/><circle cx="41.1" cy="142.4" r="11.65" fill="#0a1ca8"/><circle cx="26.1" cy="176.9" r="11.65" fill="#1f9ce8"/><circle cx="75.9" cy="138.2" r="11.65" fill="#1058f8"/><circle cx="99.9" cy="152" r="11.65" fill="#1280e0"/><circle cx="133.2" cy="143.8" r="11.65" fill="#b82098"/><circle cx="135.8" cy="167.1" r="11.65" fill="#4a0c96"/><circle cx="74" cy="168.2" r="11.65" fill="#0a34cc"/><circle cx="51.6" cy="181.8" r="11.65" fill="#1d94e6"/><circle cx="106.2" cy="185.9" r="11.65" fill="#0a26bc"/><circle cx="85.1" cy="197.1" r="11.65" fill="#0a34cc"/><circle cx="63.1" cy="221.1" r="11.65" fill="#1f9ce8"/><circle cx="46" cy="211.1" r="11.65" fill="#1d94e6"/><circle cx="81.1" cy="229.8" r="11.65" fill="#1280e0"/><circle cx="104" cy="212.8" r="11.65" fill="#0c3cd6"/><circle cx="126.6" cy="208.3" r="11.65" fill="#2a18a8"/><circle cx="122.9" cy="232.7" r="11.65" fill="#198ae2"/><circle cx="94" cy="252.1" r="11.65" fill="#f09c22"/><circle cx="100.8" cy="234.1" r="11.65" fill="#1d94e6"/></g>
<g class="n" transform="scale(0.795,1)"><text class="w" x="25.22" y="159.8">20</text><text class="w" x="36.86" y="202.6">20</text><text class="w" x="51.32" y="147.5">28</text><text class="k" x="32.45" y="182">15</text><text class="w" x="95.09" y="143.3">20</text><text class="k" x="125.28" y="157.1">18</text><text class="w" x="167.17" y="148.9">51</text><text class="w" x="170.44" y="172.2">30</text><text class="w" x="92.70" y="173.2">25</text><text class="k" x="64.53" y="186.8">16</text><text class="w" x="133.21" y="191">27</text><text class="w" x="106.67" y="202.2">25</text><text class="k" x="78.99" y="226.2">15</text><text class="k" x="57.42" y="216.2">16</text><text class="k" x="101.64" y="234.9">18</text><text class="w" x="130.44" y="217.9">24</text><text class="w" x="158.87" y="213.4">29</text><text class="k" x="154.21" y="237.8">17</text><text class="k" x="117.92" y="257.2">76</text><text class="k" x="126.42" y="239.2">16</text></g>
</g>
<g transform="translate(868,178.2)">
<text class="t" x="81" y="115">2011/2012</text>
<use href="#pl"/>
<g class="c"><circle cx="20.4" cy="154.7" r="11.65" fill="#8ee2fa"/><circle cx="29.6" cy="197.5" r="11.65" fill="#22a8ec"/><circle cx="41.1" cy="142.4" r="11.65" fill="#0e52f0"/><circle cx="26.1" cy="176.9" r="11.65" fill="#25bef2"/><circle cx="75.9" cy="138.2" r="11.65" fill="#1f9ce8"/><circle cx="99.9" cy="152" r="11.65" fill="#0c4ce8"/><circle cx="133.2" cy="143.8" r="11.65" fill="#561e9e"/><circle cx="135.8" cy="167.1" r="11.65" fill="#0a34cc"/><circle cx="74" cy="168.2" r="11.65" fill="#0e52f0"/><circle cx="51.6" cy="181.8" r="11.65" fill="#1058f8"/><circle cx="106.2" cy="185.9" r="11.65" fill="#1f9ce8"/><circle cx="85.1" cy="197.1" r="11.65" fill="#198ae2"/><circle cx="63.1" cy="221.1" r="11.65" fill="#198ae2"/><circle cx="46" cy="211.1" r="11.65" fill="#1d94e6"/><circle cx="81.1" cy="229.8" r="11.65" fill="#0a34cc"/><circle cx="104" cy="212.8" r="11.65" fill="#0e52f0"/><circle cx="126.6" cy="208.3" r="11.65" fill="#198ae2"/><circle cx="122.9" cy="232.7" r="11.65" fill="#0c44de"/><circle cx="94" cy="252.1" r="11.65" fill="#f0b40c"/><circle cx="100.8" cy="234.1" r="11.65" fill="#0e74e0"/></g>
<g class="n" transform="scale(0.795,1)"><text class="k" x="25.22" y="159.8">7</text><text class="k" x="36.86" y="202.6">14</text><text class="w" x="51.32" y="147.5">21</text><text class="k" x="32.45" y="182">12</text><text class="k" x="95.09" y="143.3">15</text><text class="w" x="125.28" y="157.1">22</text><text class="w" x="167.17" y="148.9">34</text><text class="w" x="170.44" y="172.2">25</text><text class="w" x="92.70" y="173.2">21</text><text class="w" x="64.53" y="186.8">20</text><text class="k" x="133.21" y="191">15</text><text class="k" x="106.67" y="202.2">17</text><text class="k" x="78.99" y="226.2">17</text><text class="k" x="57.42" y="216.2">16</text><text class="w" x="101.64" y="234.9">25</text><text class="w" x="130.44" y="217.9">21</text><text class="k" x="158.87" y="213.4">17</text><text class="w" x="154.21" y="237.8">23</text><text class="k" x="117.92" y="257.2">82</text><text class="k" x="126.42" y="239.2">19</text></g>
</g>
<g transform="translate(0,356.4)">
<text class="t" x="81" y="115">2010/2011</text>
<use href="#pl"/>
<g class="c"><circle cx="20.4" cy="154.7" r="11.65" fill="#0c44de"/><circle cx="29.6" cy="197.5" r="11.65" fill="#6e36a6"/><circle cx="41.1" cy="142.4" r="11.65" fill="#1058f8"/><circle cx="26.1" cy="176.9" r="11.65" fill="#5a22a0"/><circle cx="75.9" cy="138.2" r="11.65" fill="#0a1ca8"/><circle cx="99.9" cy="152" r="11.65" fill="#b41a96"/><circle cx="133.2" cy="143.8" r="11.65" fill="#d260c8"/><circle cx="135.8" cy="167.1" r="11.65" fill="#9c2ea4"/><circle cx="74" cy="168.2" r="11.65" fill="#5a22a0"/><circle cx="51.6" cy="181.8" r="11.65" fill="#0a1ca8"/><circle cx="106.2" cy="185.9" r="11.65" fill="#521a9c"/><circle cx="85.1" cy="197.1" r="11.65" fill="#0a1ca8"/><circle cx="63.1" cy="221.1" r="11.65" fill="#0c44de"/><circle cx="46" cy="211.1" r="11.65" fill="#0a34cc"/><circle cx="81.1" cy="229.8" r="11.65" fill="#4a0c96"/><circle cx="104" cy="212.8" r="11.65" fill="#0c4ce8"/><circle cx="126.6" cy="208.3" r="11.65" fill="#521a9c"/><circle cx="122.9" cy="232.7" r="11.65" fill="#521a9c"/><circle cx="94" cy="252.1" r="11.65" fill="#c848b4"/><circle cx="100.8" cy="234.1" r="11.65" fill="#082cc4"/></g>
<g class="n" transform="scale(0.795,1)"><text class="w" x="25.22" y="159.8">23</text><text class="w" x="36.86" y="202.6">40</text><text class="w" x="51.32" y="147.5">20</text><text class="w" x="32.45" y="182">35</text><text class="w" x="95.09" y="143.3">28</text><text class="w" x="125.28" y="157.1">50</text><text class="k" x="167.17" y="148.9">64</text><text class="w" x="170.44" y="172.2">49</text><text class="w" x="92.70" y="173.2">35</text><text class="w" x="64.53" y="186.8">28</text><text class="w" x="133.21" y="191">33</text><text class="w" x="106.67" y="202.2">28</text><text class="w" x="78.99" y="226.2">23</text><text class="w" x="57.42" y="216.2">25</text><text class="w" x="101.64" y="234.9">30</text><text class="w" x="130.44" y="217.9">22</text><text class="w" x="158.87" y="213.4">33</text><text class="w" x="154.21" y="237.8">33</text><text class="w" x="117.92" y="257.2">59</text><text class="w" x="126.42" y="239.2">26</text></g>
</g>
<g transform="translate(144.7,356.4)">
<text class="t" x="81" y="115">2009/2010</text>
<use href="#pl"/>
<g class="c"><circle cx="20.4" cy="154.7" r="11.65" fill="#622ca2"/><circle cx="29.6" cy="197.5" r="11.65" fill="#622ca2"/><circle cx="41.1" cy="142.4" r="11.65" fill="#6832a4"/><circle cx="26.1" cy="176.9" r="11.65" fill="#4a1298"/><circle cx="75.9" cy="138.2" r="11.65" fill="#0a1ca8"/><circle cx="99.9" cy="152" r="11.65" fill="#48189a"/><circle cx="133.2" cy="143.8" r="11.65" fill="#763cac"/><circle cx="135.8" cy="167.1" r="11.65" fill="#d462cc"/><circle cx="74" cy="168.2" r="11.65" fill="#6e36a6"/><circle cx="51.6" cy="181.8" r="11.65" fill="#521a9c"/><circle cx="106.2" cy="185.9" r="11.65" fill="#ba2a9a"/><circle cx="85.1" cy="197.1" r="11.65" fill="#5a22a0"/><circle cx="63.1" cy="221.1" r="11.65" fill="#0a1ca8"/><circle cx="46" cy="211.1" r="11.65" fill="#0a26bc"/><circle cx="81.1" cy="229.8" r="11.65" fill="#5a22a0"/><circle cx="104" cy="212.8" r="11.65" fill="#6832a4"/><circle cx="126.6" cy="208.3" r="11.65" fill="#7a3eb0"/><circle cx="122.9" cy="232.7" r="11.65" fill="#8040b0"/><circle cx="94" cy="252.1" r="11.65" fill="#0a1ca8"/><circle cx="100.8" cy="234.1" r="11.65" fill="#48189a"/></g>
<g class="n" transform="scale(0.795,1)"><text class="w" x="25.22" y="159.8">37</text><text class="w" x="36.86" y="202.6">37</text><text class="w" x="51.32" y="147.5">39</text><text class="w" x="32.45" y="182">31</text><text class="w" x="95.09" y="143.3">28</text><text class="w" x="125.28" y="157.1">32</text><text class="w" x="167.17" y="148.9">44</text><text class="k" x="170.44" y="172.2">65</text><text class="w" x="92.70" y="173.2">40</text><text class="w" x="64.53" y="186.8">33</text><text class="w" x="133.21" y="191">53</text><text class="w" x="106.67" y="202.2">35</text><text class="w" x="78.99" y="226.2">28</text><text class="w" x="57.42" y="216.2">27</text><text class="w" x="101.64" y="234.9">35</text><text class="w" x="130.44" y="217.9">39</text><text class="w" x="158.87" y="213.4">46</text><text class="w" x="154.21" y="237.8">48</text><text class="w" x="117.92" y="257.2">28</text><text class="w" x="126.42" y="239.2">32</text></g>
</g>
<g transform="translate(289.3,356.4)">
<text class="t" x="81" y="115">2008/2009</text>
<use href="#pl"/>
<g class="c"><circle cx="20.4" cy="154.7" r="11.65" fill="#198ae2"/><circle cx="29.6" cy="197.5" r="11.65" fill="#0c44de"/><circle cx="41.1" cy="142.4" r="11.65" fill="#26b0ec"/><circle cx="26.1" cy="176.9" r="11.65" fill="#198ae2"/><circle cx="75.9" cy="138.2" r="11.65" fill="#22c8f5"/><circle cx="99.9" cy="152" r="11.65" fill="#1d94e6"/><circle cx="133.2" cy="143.8" r="11.65" fill="#0c4ce8"/><circle cx="135.8" cy="167.1" r="11.65" fill="#0e74e0"/><circle cx="74" cy="168.2" r="11.65" fill="#a0e4fa"/><circle cx="51.6" cy="181.8" r="11.65" fill="#25bef2"/><circle cx="106.2" cy="185.9" r="11.65" fill="#0c3cd6"/><circle cx="85.1" cy="197.1" r="11.65" fill="#521a9c"/><circle cx="63.1" cy="221.1" r="11.65" fill="#2a18a8"/><circle cx="46" cy="211.1" r="11.65" fill="#0c4ce8"/><circle cx="81.1" cy="229.8" r="11.65" fill="#082cc4"/><circle cx="104" cy="212.8" r="11.65" fill="#1058f8"/><circle cx="126.6" cy="208.3" r="11.65" fill="#082cc4"/><circle cx="122.9" cy="232.7" r="11.65" fill="#0a26bc"/><circle cx="94" cy="252.1" r="11.65" fill="#e47ce4"/><circle cx="100.8" cy="234.1" r="11.65" fill="#0a26bc"/></g>
<g class="n" transform="scale(0.795,1)"><text class="k" x="25.22" y="159.8">17</text><text class="w" x="36.86" y="202.6">23</text><text class="k" x="51.32" y="147.5">13</text><text class="k" x="32.45" y="182">17</text><text class="k" x="95.09" y="143.3">11</text><text class="k" x="125.28" y="157.1">16</text><text class="w" x="167.17" y="148.9">22</text><text class="k" x="170.44" y="172.2">19</text><text class="k" x="92.70" y="173.2">6</text><text class="k" x="64.53" y="186.8">12</text><text class="w" x="133.21" y="191">24</text><text class="w" x="106.67" y="202.2">33</text><text class="w" x="78.99" y="226.2">29</text><text class="w" x="57.42" y="216.2">22</text><text class="w" x="101.64" y="234.9">26</text><text class="w" x="130.44" y="217.9">20</text><text class="w" x="158.87" y="213.4">26</text><text class="w" x="154.21" y="237.8">27</text><text class="k" x="117.92" y="257.2">73</text><text class="w" x="126.42" y="239.2">27</text></g>
</g>
<g transform="translate(434,356.4)">
<text class="t" x="81" y="115">2007/2008</text>
<use href="#pl"/>
<g class="c"><circle cx="20.4" cy="154.7" r="11.65" fill="#d0f2fd"/><circle cx="29.6" cy="197.5" r="11.65" fill="#d0f2fd"/><circle cx="41.1" cy="142.4" r="11.65" fill="#eefaff"/><circle cx="26.1" cy="176.9" r="11.65" fill="#8ee2fa"/><circle cx="75.9" cy="138.2" r="11.65" fill="#a0e4fa"/><circle cx="99.9" cy="152" r="11.65" fill="#54d6f9"/><circle cx="133.2" cy="143.8" r="11.65" fill="#22d3f8"/><circle cx="135.8" cy="167.1" r="11.65" fill="#26b0ec"/><circle cx="74" cy="168.2" r="11.65" fill="#25bef2"/><circle cx="51.6" cy="181.8" r="11.65" fill="#8ee2fa"/><circle cx="106.2" cy="185.9" r="11.65" fill="#c4edfc"/><circle cx="85.1" cy="197.1" r="11.65" fill="#a0e4fa"/><circle cx="63.1" cy="221.1" r="11.65" fill="#c4edfc"/><circle cx="46" cy="211.1" r="11.65" fill="#eefaff"/><circle cx="81.1" cy="229.8" r="11.65" fill="#b8e9fb"/><circle cx="104" cy="212.8" r="11.65" fill="#b8e9fb"/><circle cx="126.6" cy="208.3" r="11.65" fill="#26b0ec"/><circle cx="122.9" cy="232.7" r="11.65" fill="#8ee2fa"/><circle cx="94" cy="252.1" r="11.65" fill="#6e36a6"/><circle cx="100.8" cy="234.1" r="11.65" fill="#b8e9fb"/></g>
<g class="n" transform="scale(0.795,1)"><text class="k" x="25.22" y="159.8">3</text><text class="k" x="36.86" y="202.6">3</text><text class="k" x="51.32" y="147.5">1</text><text class="k" x="32.45" y="182">7</text><text class="k" x="95.09" y="143.3">6</text><text class="k" x="125.28" y="157.1">9</text><text class="k" x="167.17" y="148.9">10</text><text class="k" x="170.44" y="172.2">13</text><text class="k" x="92.70" y="173.2">12</text><text class="k" x="64.53" y="186.8">7</text><text class="k" x="133.21" y="191">4</text><text class="k" x="106.67" y="202.2">6</text><text class="k" x="78.99" y="226.2">4</text><text class="k" x="57.42" y="216.2">1</text><text class="k" x="101.64" y="234.9">5</text><text class="k" x="130.44" y="217.9">5</text><text class="k" x="158.87" y="213.4">13</text><text class="k" x="154.21" y="237.8">7</text><text class="w" x="117.92" y="257.2">40</text><text class="k" x="126.42" y="239.2">5</text></g>
</g>
<g transform="translate(578.7,356.4)">
<text class="t" x="81" y="115">2006/2007</text>
<use href="#pl"/>
<g class="c"><circle cx="20.4" cy="154.7" r="11.65" fill="#22a8ec"/><circle cx="29.6" cy="197.5" r="11.65" fill="#1f9ce8"/><circle cx="41.1" cy="142.4" r="11.65" fill="#22a8ec"/><circle cx="26.1" cy="176.9" r="11.65" fill="#22c8f5"/><circle cx="75.9" cy="138.2" r="11.65" fill="#d0f2fd"/><circle cx="99.9" cy="152" r="11.65" fill="#0e74e0"/><circle cx="133.2" cy="143.8" r="11.65" fill="#0a1ca8"/><circle cx="135.8" cy="167.1" r="11.65" fill="#4a1298"/><circle cx="74" cy="168.2" r="11.65" fill="#1d94e6"/><circle cx="51.6" cy="181.8" r="11.65" fill="#25bef2"/><circle cx="106.2" cy="185.9" r="11.65" fill="#0c3cd6"/><circle cx="85.1" cy="197.1" r="11.65" fill="#0e52f0"/><circle cx="63.1" cy="221.1" r="11.65" fill="#198ae2"/><circle cx="46" cy="211.1" r="11.65" fill="#0a34cc"/><circle cx="81.1" cy="229.8" r="11.65" fill="#198ae2"/><circle cx="104" cy="212.8" r="11.65" fill="#0a34cc"/><circle cx="126.6" cy="208.3" r="11.65" fill="#0c44de"/><circle cx="122.9" cy="232.7" r="11.65" fill="#22a8ec"/><circle cx="94" cy="252.1" r="11.65" fill="#7a3eb0"/><circle cx="100.8" cy="234.1" r="11.65" fill="#1058f8"/></g>
<g class="n" transform="scale(0.795,1)"><text class="k" x="25.22" y="159.8">14</text><text class="k" x="36.86" y="202.6">15</text><text class="k" x="51.32" y="147.5">14</text><text class="k" x="32.45" y="182">11</text><text class="k" x="95.09" y="143.3">3</text><text class="k" x="125.28" y="157.1">19</text><text class="w" x="167.17" y="148.9">28</text><text class="w" x="170.44" y="172.2">31</text><text class="k" x="92.70" y="173.2">16</text><text class="k" x="64.53" y="186.8">12</text><text class="w" x="133.21" y="191">24</text><text class="w" x="106.67" y="202.2">21</text><text class="k" x="78.99" y="226.2">17</text><text class="w" x="57.42" y="216.2">25</text><text class="k" x="101.64" y="234.9">17</text><text class="w" x="130.44" y="217.9">25</text><text class="w" x="158.87" y="213.4">23</text><text class="k" x="154.21" y="237.8">14</text><text class="w" x="117.92" y="257.2">46</text><text class="w" x="126.42" y="239.2">20</text></g>
</g>
<g transform="translate(723.3,356.4)">
<text class="t" x="81" y="115">2005/2006</text>
<use href="#pl"/>
<g class="c"><circle cx="20.4" cy="154.7" r="11.65" fill="#1058f8"/><circle cx="29.6" cy="197.5" r="11.65" fill="#198ae2"/><circle cx="41.1" cy="142.4" r="11.65" fill="#25bef2"/><circle cx="26.1" cy="176.9" r="11.65" fill="#198ae2"/><circle cx="75.9" cy="138.2" r="11.65" fill="#1058f8"/><circle cx="99.9" cy="152" r="11.65" fill="#6630a3"/><circle cx="133.2" cy="143.8" r="11.65" fill="#6e36a6"/><circle cx="135.8" cy="167.1" r="11.65" fill="#0c3cd6"/><circle cx="74" cy="168.2" r="11.65" fill="#082cc4"/><circle cx="51.6" cy="181.8" r="11.65" fill="#26b0ec"/><circle cx="106.2" cy="185.9" r="11.65" fill="#521a9c"/><circle cx="85.1" cy="197.1" r="11.65" fill="#5a22a0"/><circle cx="63.1" cy="221.1" r="11.65" fill="#4a0c96"/><circle cx="46" cy="211.1" r="11.65" fill="#198ae2"/><circle cx="81.1" cy="229.8" r="11.65" fill="#763cac"/><circle cx="104" cy="212.8" r="11.65" fill="#6e36a6"/><circle cx="126.6" cy="208.3" r="11.65" fill="#48189a"/><circle cx="122.9" cy="232.7" r="11.65" fill="#2a18a8"/><circle cx="94" cy="252.1" r="11.65" fill="#f09428"/><circle cx="100.8" cy="234.1" r="11.65" fill="#622ca2"/></g>
<g class="n" transform="scale(0.795,1)"><text class="w" x="25.22" y="159.8">20</text><text class="k" x="36.86" y="202.6">17</text><text class="k" x="51.32" y="147.5">12</text><text class="k" x="32.45" y="182">17</text><text class="w" x="95.09" y="143.3">20</text><text class="w" x="125.28" y="157.1">38</text><text class="w" x="167.17" y="148.9">40</text><text class="w" x="170.44" y="172.2">24</text><text class="w" x="92.70" y="173.2">26</text><text class="k" x="64.53" y="186.8">13</text><text class="w" x="133.21" y="191">33</text><text class="w" x="106.67" y="202.2">35</text><text class="w" x="78.99" y="226.2">30</text><text class="k" x="57.42" y="216.2">17</text><text class="w" x="101.64" y="234.9">44</text><text class="w" x="130.44" y="217.9">40</text><text class="w" x="158.87" y="213.4">32</text><text class="w" x="154.21" y="237.8">29</text><text class="k" x="117.92" y="257.2">75</text><text class="w" x="126.42" y="239.2">37</text></g>
</g>
<g transform="translate(868,356.4)">
<text class="t" x="81" y="115">2004/2005</text>
<use href="#pl"/>
<g class="c"><circle cx="20.4" cy="154.7" r="11.65" fill="#198ae2"/><circle cx="29.6" cy="197.5" r="11.65" fill="#4a0c96"/><circle cx="41.1" cy="142.4" r="11.65" fill="#48189a"/><circle cx="26.1" cy="176.9" r="11.65" fill="#1f9ce8"/><circle cx="75.9" cy="138.2" r="11.65" fill="#a0e4fa"/><circle cx="99.9" cy="152" r="11.65" fill="#1058f8"/><circle cx="133.2" cy="143.8" r="11.65" fill="#6832a4"/><circle cx="135.8" cy="167.1" r="11.65" fill="#4a0c96"/><circle cx="74" cy="168.2" r="11.65" fill="#25bef2"/><circle cx="51.6" cy="181.8" r="11.65" fill="#0e74e0"/><circle cx="106.2" cy="185.9" r="11.65" fill="#1058f8"/><circle cx="85.1" cy="197.1" r="11.65" fill="#1280e0"/><circle cx="63.1" cy="221.1" r="11.65" fill="#0c3cd6"/><circle cx="46" cy="211.1" r="11.65" fill="#0c4ce8"/><circle cx="81.1" cy="229.8" r="11.65" fill="#2a18a8"/><circle cx="104" cy="212.8" r="11.65" fill="#0e74e0"/><circle cx="126.6" cy="208.3" r="11.65" fill="#561e9e"/><circle cx="122.9" cy="232.7" r="11.65" fill="#0a1ca8"/><circle cx="94" cy="252.1" r="11.65" fill="#f09c22"/><circle cx="100.8" cy="234.1" r="11.65" fill="#0e52f0"/></g>
<g class="n" transform="scale(0.795,1)"><text class="k" x="25.22" y="159.8">17</text><text class="w" x="36.86" y="202.6">30</text><text class="w" x="51.32" y="147.5">32</text><text class="k" x="32.45" y="182">15</text><text class="k" x="95.09" y="143.3">6</text><text class="w" x="125.28" y="157.1">20</text><text class="w" x="167.17" y="148.9">39</text><text class="w" x="170.44" y="172.2">30</text><text class="k" x="92.70" y="173.2">12</text><text class="k" x="64.53" y="186.8">19</text><text class="w" x="133.21" y="191">20</text><text class="k" x="106.67" y="202.2">18</text><text class="w" x="78.99" y="226.2">24</text><text class="w" x="57.42" y="216.2">22</text><text class="w" x="101.64" y="234.9">29</text><text class="k" x="130.44" y="217.9">19</text><text class="w" x="158.87" y="213.4">34</text><text class="w" x="154.21" y="237.8">28</text><text class="k" x="117.92" y="257.2">76</text><text class="w" x="126.42" y="239.2">21</text></g>
</g>
<g transform="translate(0,534.7)">
<text class="t" x="81" y="115">2003/2004</text>
<use href="#pl"/>
<g class="c"><circle cx="20.4" cy="154.7" r="11.65" fill="#c4edfc"/><circle cx="29.6" cy="197.5" r="11.65" fill="#1058f8"/><circle cx="41.1" cy="142.4" r="11.65" fill="#1f9ce8"/><circle cx="26.1" cy="176.9" r="11.65" fill="#25bef2"/><circle cx="75.9" cy="138.2" r="11.65" fill="#198ae2"/><circle cx="99.9" cy="152" r="11.65" fill="#198ae2"/><circle cx="133.2" cy="143.8" r="11.65" fill="#4a1298"/><circle cx="135.8" cy="167.1" r="11.65" fill="#1058f8"/><circle cx="74" cy="168.2" r="11.65" fill="#22c8f5"/><circle cx="51.6" cy="181.8" r="11.65" fill="#1d94e6"/><circle cx="106.2" cy="185.9" r="11.65" fill="#1f9ce8"/><circle cx="85.1" cy="197.1" r="11.65" fill="#1d94e6"/><circle cx="63.1" cy="221.1" r="11.65" fill="#1d94e6"/><circle cx="46" cy="211.1" r="11.65" fill="#1d94e6"/><circle cx="81.1" cy="229.8" r="11.65" fill="#0c4ce8"/><circle cx="104" cy="212.8" r="11.65" fill="#0a34cc"/><circle cx="126.6" cy="208.3" r="11.65" fill="#0a34cc"/><circle cx="122.9" cy="232.7" r="11.65" fill="#0e52f0"/><circle cx="94" cy="252.1" r="11.65" fill="#c848b4"/><circle cx="100.8" cy="234.1" r="11.65" fill="#0e52f0"/></g>
<g class="n" transform="scale(0.795,1)"><text class="k" x="25.22" y="159.8">4</text><text class="w" x="36.86" y="202.6">20</text><text class="k" x="51.32" y="147.5">15</text><text class="k" x="32.45" y="182">12</text><text class="k" x="95.09" y="143.3">17</text><text class="k" x="125.28" y="157.1">17</text><text class="w" x="167.17" y="148.9">31</text><text class="w" x="170.44" y="172.2">20</text><text class="k" x="92.70" y="173.2">11</text><text class="k" x="64.53" y="186.8">16</text><text class="k" x="133.21" y="191">15</text><text class="k" x="106.67" y="202.2">16</text><text class="k" x="78.99" y="226.2">16</text><text class="k" x="57.42" y="216.2">16</text><text class="w" x="101.64" y="234.9">22</text><text class="w" x="130.44" y="217.9">25</text><text class="w" x="158.87" y="213.4">25</text><text class="w" x="154.21" y="237.8">21</text><text class="w" x="117.92" y="257.2">59</text><text class="w" x="126.42" y="239.2">21</text></g>
</g>
<g transform="translate(144.7,534.7)">
<text class="t" x="81" y="115">2002/2003</text>
<use href="#pl"/>
<g class="c"><circle cx="20.4" cy="154.7" r="11.65" fill="#22d3f8"/><circle cx="29.6" cy="197.5" r="11.65" fill="#22d3f8"/><circle cx="41.1" cy="142.4" r="11.65" fill="#26b0ec"/><circle cx="26.1" cy="176.9" r="11.65" fill="#72defa"/><circle cx="75.9" cy="138.2" r="11.65" fill="#0a26bc"/><circle cx="99.9" cy="152" r="11.65" fill="#26b0ec"/><circle cx="133.2" cy="143.8" r="11.65" fill="#0a26bc"/><circle cx="135.8" cy="167.1" r="11.65" fill="#5a22a0"/><circle cx="74" cy="168.2" r="11.65" fill="#25bef2"/><circle cx="51.6" cy="181.8" r="11.65" fill="#22c8f5"/><circle cx="106.2" cy="185.9" r="11.65" fill="#5a22a0"/><circle cx="85.1" cy="197.1" r="11.65" fill="#0e74e0"/><circle cx="63.1" cy="221.1" r="11.65" fill="#8ee2fa"/><circle cx="46" cy="211.1" r="11.65" fill="#72defa"/><circle cx="81.1" cy="229.8" r="11.65" fill="#25bef2"/><circle cx="104" cy="212.8" r="11.65" fill="#0e74e0"/><circle cx="126.6" cy="208.3" r="11.65" fill="#48189a"/><circle cx="122.9" cy="232.7" r="11.65" fill="#4a1298"/><circle cx="94" cy="252.1" r="11.65" fill="#e47ae4"/><circle cx="100.8" cy="234.1" r="11.65" fill="#26b0ec"/></g>
<g class="n" transform="scale(0.795,1)"><text class="k" x="25.22" y="159.8">10</text><text class="k" x="36.86" y="202.6">10</text><text class="k" x="51.32" y="147.5">13</text><text class="k" x="32.45" y="182">8</text><text class="w" x="95.09" y="143.3">27</text><text class="k" x="125.28" y="157.1">13</text><text class="w" x="167.17" y="148.9">27</text><text class="w" x="170.44" y="172.2">35</text><text class="k" x="92.70" y="173.2">12</text><text class="k" x="64.53" y="186.8">11</text><text class="w" x="133.21" y="191">35</text><text class="k" x="106.67" y="202.2">19</text><text class="k" x="78.99" y="226.2">7</text><text class="k" x="57.42" y="216.2">8</text><text class="k" x="101.64" y="234.9">12</text><text class="k" x="130.44" y="217.9">19</text><text class="w" x="158.87" y="213.4">32</text><text class="w" x="154.21" y="237.8">31</text><text class="k" x="117.92" y="257.2">72</text><text class="k" x="126.42" y="239.2">13</text></g>
</g>
<g transform="translate(289.3,534.7)">
<text class="t" x="81" y="115">2001/2002</text>
<use href="#pl"/>
<g class="c"><circle cx="20.4" cy="154.7" r="11.65" fill="#26b0ec"/><circle cx="29.6" cy="197.5" r="11.65" fill="#0a34cc"/><circle cx="41.1" cy="142.4" r="11.65" fill="#763cac"/><circle cx="26.1" cy="176.9" r="11.65" fill="#4a0c96"/><circle cx="75.9" cy="138.2" r="11.65" fill="#198ae2"/><circle cx="99.9" cy="152" r="11.65" fill="#b41a96"/><circle cx="133.2" cy="143.8" r="11.65" fill="#c036a4"/><circle cx="135.8" cy="167.1" r="11.65" fill="#6832a4"/><circle cx="74" cy="168.2" r="11.65" fill="#082cc4"/><circle cx="51.6" cy="181.8" r="11.65" fill="#0c4ce8"/><circle cx="106.2" cy="185.9" r="11.65" fill="#0c44de"/><circle cx="85.1" cy="197.1" r="11.65" fill="#4a0c96"/><circle cx="63.1" cy="221.1" r="11.65" fill="#198ae2"/><circle cx="46" cy="211.1" r="11.65" fill="#22d3f8"/><circle cx="81.1" cy="229.8" r="11.65" fill="#521a9c"/><circle cx="104" cy="212.8" r="11.65" fill="#48189a"/><circle cx="126.6" cy="208.3" r="11.65" fill="#6630a3"/><circle cx="122.9" cy="232.7" r="11.65" fill="#082cc4"/><circle cx="94" cy="252.1" r="11.65" fill="#f09428"/><circle cx="100.8" cy="234.1" r="11.65" fill="#6832a4"/></g>
<g class="n" transform="scale(0.795,1)"><text class="k" x="25.22" y="159.8">13</text><text class="w" x="36.86" y="202.6">25</text><text class="w" x="51.32" y="147.5">44</text><text class="w" x="32.45" y="182">30</text><text class="k" x="95.09" y="143.3">17</text><text class="w" x="125.28" y="157.1">50</text><text class="w" x="167.17" y="148.9">55</text><text class="w" x="170.44" y="172.2">39</text><text class="w" x="92.70" y="173.2">26</text><text class="w" x="64.53" y="186.8">22</text><text class="w" x="133.21" y="191">23</text><text class="w" x="106.67" y="202.2">30</text><text class="k" x="78.99" y="226.2">17</text><text class="k" x="57.42" y="216.2">10</text><text class="w" x="101.64" y="234.9">33</text><text class="w" x="130.44" y="217.9">32</text><text class="w" x="158.87" y="213.4">38</text><text class="w" x="154.21" y="237.8">26</text><text class="k" x="117.92" y="257.2">75</text><text class="w" x="126.42" y="239.2">39</text></g>
</g>
<g transform="translate(434,534.7)">
<text class="t" x="81" y="115">2000/2001</text>
<use href="#pl"/>
<g class="c"><circle cx="20.4" cy="154.7" r="11.65" fill="#22d3f8"/><circle cx="29.6" cy="197.5" r="11.65" fill="#54d6f9"/><circle cx="41.1" cy="142.4" r="11.65" fill="#22d3f8"/><circle cx="26.1" cy="176.9" r="11.65" fill="#22c8f5"/><circle cx="75.9" cy="138.2" r="11.65" fill="#48189a"/><circle cx="99.9" cy="152" r="11.65" fill="#0a34cc"/><circle cx="133.2" cy="143.8" r="11.65" fill="#6e36a6"/><circle cx="135.8" cy="167.1" r="11.65" fill="#0e52f0"/><circle cx="74" cy="168.2" r="11.65" fill="#4a1298"/><circle cx="51.6" cy="181.8" r="11.65" fill="#72defa"/><circle cx="106.2" cy="185.9" r="11.65" fill="#8ee2fa"/><circle cx="85.1" cy="197.1" r="11.65" fill="#25bef2"/><circle cx="63.1" cy="221.1" r="11.65" fill="#1058f8"/><circle cx="46" cy="211.1" r="11.65" fill="#72defa"/><circle cx="81.1" cy="229.8" r="11.65" fill="#25bef2"/><circle cx="104" cy="212.8" r="11.65" fill="#25bef2"/><circle cx="126.6" cy="208.3" r="11.65" fill="#1d94e6"/><circle cx="122.9" cy="232.7" r="11.65" fill="#0a34cc"/><circle cx="94" cy="252.1" r="11.65" fill="#7238a8"/><circle cx="100.8" cy="234.1" r="11.65" fill="#22d3f8"/></g>
<g class="n" transform="scale(0.795,1)"><text class="k" x="25.22" y="159.8">10</text><text class="k" x="36.86" y="202.6">9</text><text class="k" x="51.32" y="147.5">10</text><text class="k" x="32.45" y="182">11</text><text class="w" x="95.09" y="143.3">32</text><text class="w" x="125.28" y="157.1">25</text><text class="w" x="167.17" y="148.9">40</text><text class="w" x="170.44" y="172.2">21</text><text class="w" x="92.70" y="173.2">31</text><text class="k" x="64.53" y="186.8">8</text><text class="k" x="133.21" y="191">7</text><text class="k" x="106.67" y="202.2">12</text><text class="w" x="78.99" y="226.2">20</text><text class="k" x="57.42" y="216.2">8</text><text class="k" x="101.64" y="234.9">12</text><text class="k" x="130.44" y="217.9">12</text><text class="k" x="158.87" y="213.4">16</text><text class="w" x="154.21" y="237.8">25</text><text class="w" x="117.92" y="257.2">42</text><text class="k" x="126.42" y="239.2">10</text></g>
</g>
<g transform="translate(578.7,534.7)">
<text class="t" x="81" y="115">1999/2000</text>
<use href="#pl"/>
<g class="c"><circle cx="20.4" cy="154.7" r="11.65" fill="#22a8ec"/><circle cx="29.6" cy="197.5" r="11.65" fill="#22a8ec"/><circle cx="41.1" cy="142.4" r="11.65" fill="#22a8ec"/><circle cx="26.1" cy="176.9" r="11.65" fill="#54d6f9"/><circle cx="75.9" cy="138.2" r="11.65" fill="#26b0ec"/><circle cx="99.9" cy="152" r="11.65" fill="#1280e0"/><circle cx="133.2" cy="143.8" r="11.65" fill="#1280e0"/><circle cx="135.8" cy="167.1" r="11.65" fill="#26b0ec"/><circle cx="74" cy="168.2" r="11.65" fill="#22d3f8"/><circle cx="51.6" cy="181.8" r="11.65" fill="#a0e4fa"/><circle cx="106.2" cy="185.9" r="11.65" fill="#54d6f9"/><circle cx="85.1" cy="197.1" r="11.65" fill="#26b0ec"/><circle cx="63.1" cy="221.1" r="11.65" fill="#1f9ce8"/><circle cx="46" cy="211.1" r="11.65" fill="#26b0ec"/><circle cx="81.1" cy="229.8" r="11.65" fill="#4a0c96"/><circle cx="104" cy="212.8" r="11.65" fill="#1f9ce8"/><circle cx="126.6" cy="208.3" r="11.65" fill="#0a34cc"/><circle cx="122.9" cy="232.7" r="11.65" fill="#5e28a0"/><circle cx="94" cy="252.1" r="11.65" fill="#e8f022"/><circle cx="100.8" cy="234.1" r="11.65" fill="#0c4ce8"/></g>
<g class="n" transform="scale(0.795,1)"><text class="k" x="25.22" y="159.8">14</text><text class="k" x="36.86" y="202.6">14</text><text class="k" x="51.32" y="147.5">14</text><text class="k" x="32.45" y="182">9</text><text class="k" x="95.09" y="143.3">13</text><text class="k" x="125.28" y="157.1">18</text><text class="k" x="167.17" y="148.9">18</text><text class="k" x="170.44" y="172.2">13</text><text class="k" x="92.70" y="173.2">10</text><text class="k" x="64.53" y="186.8">6</text><text class="k" x="133.21" y="191">9</text><text class="k" x="106.67" y="202.2">13</text><text class="k" x="78.99" y="226.2">15</text><text class="k" x="57.42" y="216.2">13</text><text class="w" x="101.64" y="234.9">30</text><text class="k" x="130.44" y="217.9">15</text><text class="w" x="158.87" y="213.4">25</text><text class="w" x="154.21" y="237.8">36</text><text class="k" x="117.92" y="257.2">95</text><text class="w" x="126.42" y="239.2">22</text></g>
</g>
<g transform="translate(723.3,534.7)">
<text class="t" x="81" y="115">1998/1999</text>
<use href="#pl"/>
<g class="c"><circle cx="20.4" cy="154.7" r="11.65" fill="#1058f8"/><circle cx="29.6" cy="197.5" r="11.65" fill="#0a1ca8"/><circle cx="41.1" cy="142.4" r="11.65" fill="#0a1ca8"/><circle cx="26.1" cy="176.9" r="11.65" fill="#1f9ce8"/><circle cx="75.9" cy="138.2" r="11.65" fill="#1058f8"/><circle cx="99.9" cy="152" r="11.65" fill="#0c44de"/><circle cx="133.2" cy="143.8" r="11.65" fill="#6e36a6"/><circle cx="135.8" cy="167.1" r="11.65" fill="#0a1ca8"/><circle cx="74" cy="168.2" r="11.65" fill="#1f9ce8"/><circle cx="51.6" cy="181.8" r="11.65" fill="#22a8ec"/><circle cx="106.2" cy="185.9" r="11.65" fill="#0c4ce8"/><circle cx="85.1" cy="197.1" r="11.65" fill="#0a26bc"/><circle cx="63.1" cy="221.1" r="11.65" fill="#2a18a8"/><circle cx="46" cy="211.1" r="11.65" fill="#0a26bc"/><circle cx="81.1" cy="229.8" r="11.65" fill="#0a1ca8"/><circle cx="104" cy="212.8" r="11.65" fill="#0c44de"/><circle cx="126.6" cy="208.3" r="11.65" fill="#521a9c"/><circle cx="122.9" cy="232.7" r="11.65" fill="#2a18a8"/><circle cx="94" cy="252.1" r="11.65" fill="#d25cc6"/><circle cx="100.8" cy="234.1" r="11.65" fill="#4a0c96"/></g>
<g class="n" transform="scale(0.795,1)"><text class="w" x="25.22" y="159.8">20</text><text class="w" x="36.86" y="202.6">28</text><text class="w" x="51.32" y="147.5">28</text><text class="k" x="32.45" y="182">15</text><text class="w" x="95.09" y="143.3">20</text><text class="w" x="125.28" y="157.1">23</text><text class="w" x="167.17" y="148.9">40</text><text class="w" x="170.44" y="172.2">28</text><text class="k" x="92.70" y="173.2">15</text><text class="k" x="64.53" y="186.8">14</text><text class="w" x="133.21" y="191">22</text><text class="w" x="106.67" y="202.2">27</text><text class="w" x="78.99" y="226.2">29</text><text class="w" x="57.42" y="216.2">27</text><text class="w" x="101.64" y="234.9">28</text><text class="w" x="130.44" y="217.9">23</text><text class="w" x="158.87" y="213.4">33</text><text class="w" x="154.21" y="237.8">29</text><text class="k" x="117.92" y="257.2">63</text><text class="w" x="126.42" y="239.2">30</text></g>
</g>
<g transform="translate(868,534.7)">
<text class="t" x="81" y="115">1997/1998</text>
<use href="#pl"/>
<g class="c"><circle cx="20.4" cy="154.7" r="11.65" fill="#e0f6fe"/><circle cx="29.6" cy="197.5" r="11.65" fill="#54d6f9"/><circle cx="41.1" cy="142.4" r="11.65" fill="#a0e4fa"/><circle cx="26.1" cy="176.9" r="11.65" fill="#c4edfc"/><circle cx="75.9" cy="138.2" r="11.65" fill="#72defa"/><circle cx="99.9" cy="152" r="11.65" fill="#0a1ca8"/><circle cx="133.2" cy="143.8" r="11.65" fill="#1f9ce8"/><circle cx="135.8" cy="167.1" r="11.65" fill="#22c8f5"/><circle cx="74" cy="168.2" r="11.65" fill="#72defa"/><circle cx="51.6" cy="181.8" r="11.65" fill="#8ee2fa"/><circle cx="106.2" cy="185.9" r="11.65" fill="#25bef2"/><circle cx="85.1" cy="197.1" r="11.65" fill="#25bef2"/><circle cx="63.1" cy="221.1" r="11.65" fill="#8ee2fa"/><circle cx="46" cy="211.1" r="11.65" fill="#d0f2fd"/><circle cx="81.1" cy="229.8" r="11.65" fill="#22c8f5"/><circle cx="104" cy="212.8" r="11.65" fill="#8ee2fa"/><circle cx="126.6" cy="208.3" r="11.65" fill="#25bef2"/><circle cx="122.9" cy="232.7" r="11.65" fill="#1f9ce8"/><circle cx="94" cy="252.1" r="11.65" fill="#4a0c96"/><circle cx="100.8" cy="234.1" r="11.65" fill="#8ee2fa"/></g>
<g class="n" transform="scale(0.795,1)"><text class="k" x="25.22" y="159.8">2</text><text class="k" x="36.86" y="202.6">9</text><text class="k" x="51.32" y="147.5">6</text><text class="k" x="32.45" y="182">4</text><text class="k" x="95.09" y="143.3">8</text><text class="w" x="125.28" y="157.1">28</text><text class="k" x="167.17" y="148.9">15</text><text class="k" x="170.44" y="172.2">11</text><text class="k" x="92.70" y="173.2">8</text><text class="k" x="64.53" y="186.8">7</text><text class="k" x="133.21" y="191">12</text><text class="k" x="106.67" y="202.2">12</text><text class="k" x="78.99" y="226.2">7</text><text class="k" x="57.42" y="216.2">3</text><text class="k" x="101.64" y="234.9">11</text><text class="k" x="130.44" y="217.9">7</text><text class="k" x="158.87" y="213.4">12</text><text class="k" x="154.21" y="237.8">15</text><text class="w" x="117.92" y="257.2">30</text><text class="k" x="126.42" y="239.2">7</text></g>
</g>
<g transform="translate(0,712.9)">
<text class="t" x="81" y="115">1996/1997</text>
<use href="#pl"/>
<g class="c"><circle cx="20.4" cy="154.7" r="11.65" fill="#c4edfc"/><circle cx="29.6" cy="197.5" r="11.65" fill="#22c8f5"/><circle cx="41.1" cy="142.4" r="11.65" fill="#25bef2"/><circle cx="26.1" cy="176.9" r="11.65" fill="#c4edfc"/><circle cx="75.9" cy="138.2" r="11.65" fill="#1058f8"/><circle cx="99.9" cy="152" r="11.65" fill="#22a8ec"/><circle cx="133.2" cy="143.8" r="11.65" fill="#521a9c"/><circle cx="135.8" cy="167.1" r="11.65" fill="#1280e0"/><circle cx="74" cy="168.2" r="11.65" fill="#8ee2fa"/><circle cx="51.6" cy="181.8" r="11.65" fill="#d0f2fd"/><circle cx="106.2" cy="185.9" r="11.65" fill="#a0e4fa"/><circle cx="85.1" cy="197.1" r="11.65" fill="#8ee2fa"/><circle cx="63.1" cy="221.1" r="11.65" fill="#22d3f8"/><circle cx="46" cy="211.1" r="11.65" fill="#b8e9fb"/><circle cx="81.1" cy="229.8" r="11.65" fill="#0e74e0"/><circle cx="104" cy="212.8" r="11.65" fill="#22d3f8"/><circle cx="126.6" cy="208.3" r="11.65" fill="#8ee2fa"/><circle cx="122.9" cy="232.7" r="11.65" fill="#22a8ec"/><circle cx="94" cy="252.1" r="11.65" fill="#4a0c96"/><circle cx="100.8" cy="234.1" r="11.65" fill="#1058f8"/></g>
<g class="n" transform="scale(0.795,1)"><text class="k" x="25.22" y="159.8">4</text><text class="k" x="36.86" y="202.6">11</text><text class="k" x="51.32" y="147.5">12</text><text class="k" x="32.45" y="182">4</text><text class="w" x="95.09" y="143.3">20</text><text class="k" x="125.28" y="157.1">14</text><text class="w" x="167.17" y="148.9">33</text><text class="k" x="170.44" y="172.2">18</text><text class="k" x="92.70" y="173.2">7</text><text class="k" x="64.53" y="186.8">3</text><text class="k" x="133.21" y="191">6</text><text class="k" x="106.67" y="202.2">7</text><text class="k" x="78.99" y="226.2">10</text><text class="k" x="57.42" y="216.2">5</text><text class="k" x="101.64" y="234.9">19</text><text class="k" x="130.44" y="217.9">10</text><text class="k" x="158.87" y="213.4">7</text><text class="k" x="154.21" y="237.8">14</text><text class="w" x="117.92" y="257.2">30</text><text class="w" x="126.42" y="239.2">20</text></g>
</g>
<g transform="translate(144.7,712.9)">
<text class="t" x="81" y="115">1995/1996</text>
<use href="#pl"/>
<g class="c"><circle cx="20.4" cy="154.7" r="11.65" fill="#26b0ec"/><circle cx="29.6" cy="197.5" r="11.65" fill="#72defa"/><circle cx="41.1" cy="142.4" r="11.65" fill="#198ae2"/><circle cx="26.1" cy="176.9" r="11.65" fill="#1f9ce8"/><circle cx="75.9" cy="138.2" r="11.65" fill="#082cc4"/><circle cx="99.9" cy="152" r="11.65" fill="#0c3cd6"/><circle cx="133.2" cy="143.8" r="11.65" fill="#cc4eba"/><circle cx="135.8" cy="167.1" r="11.65" fill="#b41a96"/><circle cx="74" cy="168.2" r="11.65" fill="#1d94e6"/><circle cx="51.6" cy="181.8" r="11.65" fill="#22c8f5"/><circle cx="106.2" cy="185.9" r="11.65" fill="#25bef2"/><circle cx="85.1" cy="197.1" r="11.65" fill="#26b0ec"/><circle cx="63.1" cy="221.1" r="11.65" fill="#22d3f8"/><circle cx="46" cy="211.1" r="11.65" fill="#8ee2fa"/><circle cx="81.1" cy="229.8" r="11.65" fill="#0e74e0"/><circle cx="104" cy="212.8" r="11.65" fill="#1f9ce8"/><circle cx="126.6" cy="208.3" r="11.65" fill="#0a1ca8"/><circle cx="122.9" cy="232.7" r="11.65" fill="#082cc4"/><circle cx="94" cy="252.1" r="11.65" fill="#622ca2"/><circle cx="100.8" cy="234.1" r="11.65" fill="#082cc4"/></g>
<g class="n" transform="scale(0.795,1)"><text class="k" x="25.22" y="159.8">13</text><text class="k" x="36.86" y="202.6">8</text><text class="k" x="51.32" y="147.5">17</text><text class="k" x="32.45" y="182">15</text><text class="w" x="95.09" y="143.3">26</text><text class="w" x="125.28" y="157.1">24</text><text class="k" x="167.17" y="148.9">60</text><text class="w" x="170.44" y="172.2">50</text><text class="k" x="92.70" y="173.2">16</text><text class="k" x="64.53" y="186.8">11</text><text class="k" x="133.21" y="191">12</text><text class="k" x="106.67" y="202.2">13</text><text class="k" x="78.99" y="226.2">10</text><text class="k" x="57.42" y="216.2">7</text><text class="k" x="101.64" y="234.9">19</text><text class="k" x="130.44" y="217.9">15</text><text class="w" x="158.87" y="213.4">28</text><text class="w" x="154.21" y="237.8">26</text><text class="w" x="117.92" y="257.2">37</text><text class="w" x="126.42" y="239.2">26</text></g>
</g>
<g transform="translate(289.3,712.9)">
<text class="t" x="81" y="115">1994/1995</text>
<use href="#pl"/>
<g class="c"><circle cx="20.4" cy="154.7" r="11.65" fill="#c4edfc"/><circle cx="29.6" cy="197.5" r="11.65" fill="#1f9ce8"/><circle cx="41.1" cy="142.4" r="11.65" fill="#22a8ec"/><circle cx="26.1" cy="176.9" r="11.65" fill="#8ee2fa"/><circle cx="75.9" cy="138.2" r="11.65" fill="#a0e4fa"/><circle cx="99.9" cy="152" r="11.65" fill="#198ae2"/><circle cx="133.2" cy="143.8" r="11.65" fill="#198ae2"/><circle cx="135.8" cy="167.1" r="11.65" fill="#25bef2"/><circle cx="74" cy="168.2" r="11.65" fill="#22d3f8"/><circle cx="51.6" cy="181.8" r="11.65" fill="#72defa"/><circle cx="106.2" cy="185.9" r="11.65" fill="#0e52f0"/><circle cx="85.1" cy="197.1" r="11.65" fill="#1058f8"/><circle cx="63.1" cy="221.1" r="11.65" fill="#1f9ce8"/><circle cx="46" cy="211.1" r="11.65" fill="#22a8ec"/><circle cx="81.1" cy="229.8" r="11.65" fill="#0a26bc"/><circle cx="104" cy="212.8" r="11.65" fill="#1058f8"/><circle cx="126.6" cy="208.3" r="11.65" fill="#1d94e6"/><circle cx="122.9" cy="232.7" r="11.65" fill="#1280e0"/><circle cx="94" cy="252.1" r="11.65" fill="#763cac"/><circle cx="100.8" cy="234.1" r="11.65" fill="#0c4ce8"/></g>
<g class="n" transform="scale(0.795,1)"><text class="k" x="25.22" y="159.8">4</text><text class="k" x="36.86" y="202.6">15</text><text class="k" x="51.32" y="147.5">14</text><text class="k" x="32.45" y="182">7</text><text class="k" x="95.09" y="143.3">6</text><text class="k" x="125.28" y="157.1">17</text><text class="k" x="167.17" y="148.9">17</text><text class="k" x="170.44" y="172.2">12</text><text class="k" x="92.70" y="173.2">10</text><text class="k" x="64.53" y="186.8">8</text><text class="w" x="133.21" y="191">21</text><text class="w" x="106.67" y="202.2">20</text><text class="k" x="78.99" y="226.2">15</text><text class="k" x="57.42" y="216.2">14</text><text class="w" x="101.64" y="234.9">27</text><text class="w" x="130.44" y="217.9">20</text><text class="k" x="158.87" y="213.4">16</text><text class="k" x="154.21" y="237.8">18</text><text class="w" x="117.92" y="257.2">44</text><text class="w" x="126.42" y="239.2">22</text></g>
</g>
<g transform="translate(640.2,717)">
<text class="t" x="81" y="117.5">MAX</text>
<use href="#pl"/>
<g class="c"><circle cx="20.4" cy="154.7" r="11.65" fill="#622ca2"/><circle cx="29.6" cy="197.5" r="11.65" fill="#6e36a6"/><circle cx="41.1" cy="142.4" r="11.65" fill="#763cac"/><circle cx="26.1" cy="176.9" r="11.65" fill="#5a22a0"/><circle cx="75.9" cy="138.2" r="11.65" fill="#5e28a0"/><circle cx="99.9" cy="152" r="11.65" fill="#b41a96"/><circle cx="133.2" cy="143.8" r="11.65" fill="#d260c8"/><circle cx="135.8" cy="167.1" r="11.65" fill="#d462cc"/><circle cx="74" cy="168.2" r="11.65" fill="#6e36a6"/><circle cx="51.6" cy="181.8" r="11.65" fill="#521a9c"/><circle cx="106.2" cy="185.9" r="11.65" fill="#ba2a9a"/><circle cx="85.1" cy="197.1" r="11.65" fill="#5a22a0"/><circle cx="63.1" cy="221.1" r="11.65" fill="#4a0c96"/><circle cx="46" cy="211.1" r="11.65" fill="#0a26bc"/><circle cx="81.1" cy="229.8" r="11.65" fill="#763cac"/><circle cx="104" cy="212.8" r="11.65" fill="#6e36a6"/><circle cx="126.6" cy="208.3" r="11.65" fill="#7a3eb0"/><circle cx="122.9" cy="232.7" r="11.65" fill="#8040b0"/><circle cx="94" cy="252.1" r="11.65" fill="#e8f022"/><circle cx="100.8" cy="234.1" r="11.65" fill="#6832a4"/></g>
<g class="n" transform="scale(0.795,1)"><text class="w" x="25.22" y="159.8">37</text><text class="w" x="36.86" y="202.6">40</text><text class="w" x="51.32" y="147.5">44</text><text class="w" x="32.45" y="182">35</text><text class="w" x="95.09" y="143.3">36</text><text class="w" x="125.28" y="157.1">50</text><text class="k" x="167.17" y="148.9">64</text><text class="k" x="170.44" y="172.2">65</text><text class="w" x="92.70" y="173.2">40</text><text class="w" x="64.53" y="186.8">33</text><text class="w" x="133.21" y="191">53</text><text class="w" x="106.67" y="202.2">35</text><text class="w" x="78.99" y="226.2">30</text><text class="w" x="57.42" y="216.2">27</text><text class="w" x="101.64" y="234.9">44</text><text class="w" x="130.44" y="217.9">40</text><text class="w" x="158.87" y="213.4">46</text><text class="w" x="154.21" y="237.8">48</text><text class="k" x="117.92" y="257.2">95</text><text class="w" x="126.42" y="239.2">39</text></g>
</g>
<g transform="translate(784.3,717)">
<text class="t" x="81" y="117.5">ŚREDNIA</text>
<use href="#pl"/>
<g class="c"><circle cx="20.4" cy="154.7" r="11.65" fill="#22d3f8"/><circle cx="29.6" cy="197.5" r="11.65" fill="#1d94e6"/><circle cx="41.1" cy="142.4" r="11.65" fill="#1d94e6"/><circle cx="26.1" cy="176.9" r="11.65" fill="#22c8f5"/><circle cx="75.9" cy="138.2" r="11.65" fill="#1f9ce8"/><circle cx="99.9" cy="152" r="11.65" fill="#0e74e0"/><circle cx="133.2" cy="143.8" r="11.65" fill="#4a0c96"/><circle cx="135.8" cy="167.1" r="11.65" fill="#0a34cc"/><circle cx="74" cy="168.2" r="11.65" fill="#1f9ce8"/><circle cx="51.6" cy="181.8" r="11.65" fill="#22c8f5"/><circle cx="106.2" cy="185.9" r="11.65" fill="#1d94e6"/><circle cx="85.1" cy="197.1" r="11.65" fill="#1d94e6"/><circle cx="63.1" cy="221.1" r="11.65" fill="#1f9ce8"/><circle cx="46" cy="211.1" r="11.65" fill="#22c8f5"/><circle cx="81.1" cy="229.8" r="11.65" fill="#1058f8"/><circle cx="104" cy="212.8" r="11.65" fill="#0e74e0"/><circle cx="126.6" cy="208.3" r="11.65" fill="#0c4ce8"/><circle cx="122.9" cy="232.7" r="11.65" fill="#0e52f0"/><circle cx="94" cy="252.1" r="11.65" fill="#ba2a9a"/><circle cx="100.8" cy="234.1" r="11.65" fill="#0e74e0"/></g>
<g class="n" transform="scale(0.795,1)"><text class="k" x="25.22" y="159.8">10</text><text class="k" x="36.86" y="202.6">16</text><text class="k" x="51.32" y="147.5">16</text><text class="k" x="32.45" y="182">11</text><text class="k" x="95.09" y="143.3">15</text><text class="k" x="125.28" y="157.1">19</text><text class="w" x="167.17" y="148.9">30</text><text class="w" x="170.44" y="172.2">25</text><text class="k" x="92.70" y="173.2">15</text><text class="k" x="64.53" y="186.8">11</text><text class="k" x="133.21" y="191">16</text><text class="k" x="106.67" y="202.2">16</text><text class="k" x="78.99" y="226.2">15</text><text class="k" x="57.42" y="216.2">11</text><text class="w" x="101.64" y="234.9">20</text><text class="k" x="130.44" y="217.9">19</text><text class="w" x="158.87" y="213.4">22</text><text class="w" x="154.21" y="237.8">21</text><text class="w" x="117.92" y="257.2">53</text><text class="k" x="126.42" y="239.2">19</text></g>
</g>
<text x="21.4" y="1014.5" font-size="15.3" fill="#353a4c" textLength="604.6" lengthAdjust="spacing">Dane dla miast wojewódzkich (bez Bydgoszczy) oraz dla Koszalina, Suwałk i Zakopanego</text>
<text x="758" y="1014.6" font-style="italic" font-size="15.3" fill="#353a4c" textLength="245" lengthAdjust="spacing">Wizualizacja danych: dr Alan Mandal</text>

</svg>
</body></html>
